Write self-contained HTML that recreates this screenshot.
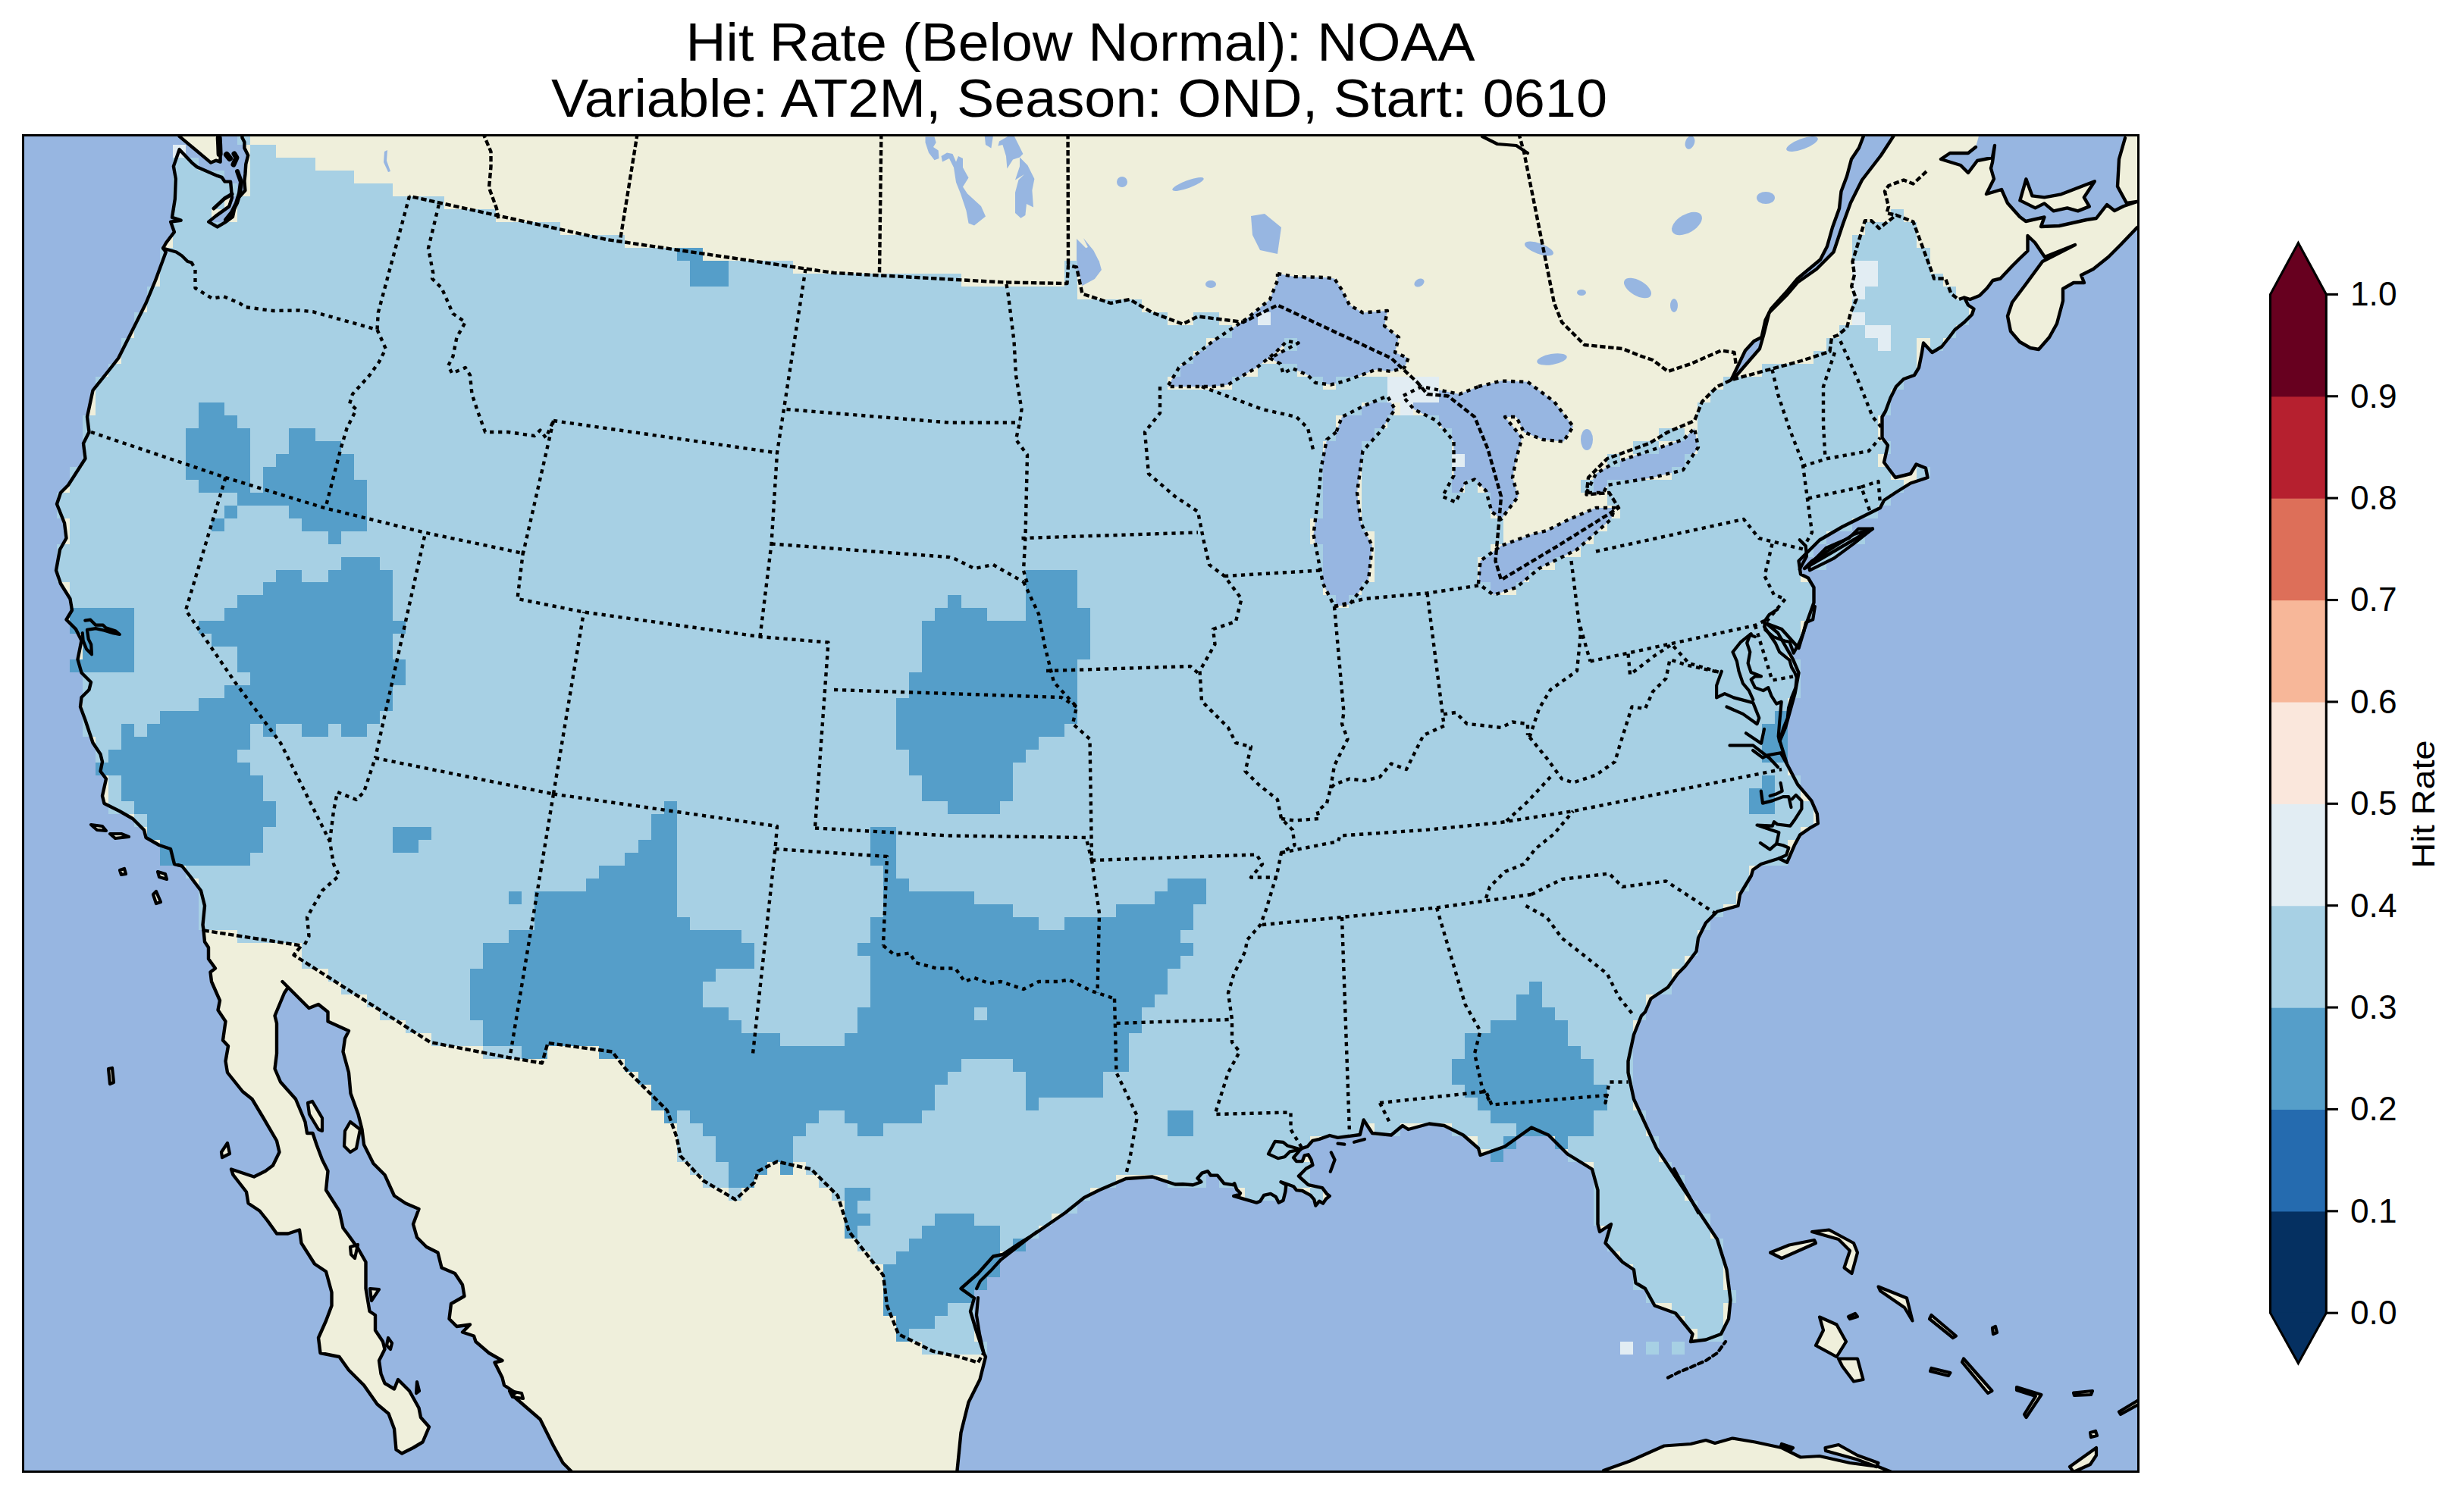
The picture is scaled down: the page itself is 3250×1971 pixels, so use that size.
<!DOCTYPE html>
<html><head><meta charset="utf-8"><style>html,body{margin:0;padding:0;background:#fff;overflow:hidden}</style></head>
<body><svg xmlns="http://www.w3.org/2000/svg" width="3250" height="1971" viewBox="0 0 3250 1971" style="display:block">
<defs><clipPath id="mc"><rect x="30.5" y="178.5" width="2790" height="1763"/></clipPath></defs>
<rect width="3250" height="1971" fill="#fff"/>
<g font-family="Liberation Sans, sans-serif" fill="#000">
<text x="904.5" y="80.4" font-size="70" textLength="1041" lengthAdjust="spacingAndGlyphs">Hit Rate (Below Normal): NOAA</text>
<text x="727" y="153.8" font-size="70" textLength="1393" lengthAdjust="spacingAndGlyphs">Variable: AT2M, Season: OND, Start: 0610</text>
</g>
<g clip-path="url(#mc)">
<rect x="30.5" y="178.5" width="2790" height="1763" fill="#97b6e1"/>
<rect x="20" y="165" width="2820" height="1790" fill="#efefdb"/>
<polygon points="20.0,165.0 232.0,165.0 236.6,179.9 278.1,214.6 284.8,211.7 290.6,213.6 290.6,200.1 286.7,165.0 318.6,165.0 319.5,181.8 322.4,187.6 322.4,195.3 327.2,204.9 324.3,216.5 323.4,230.0 322.4,238.7 323.4,251.2 314.7,260.8 309.9,272.4 307.0,285.9 296.4,293.6 286.7,299.4 275.2,292.6 284.8,284.9 302.2,272.4 306.0,260.8 304.1,239.6 296.4,239.6 292.5,233.8 286.7,231.9 259.8,220.3 253.0,214.6 236.6,197.2 228.9,219.4 231.8,235.8 230.8,262.7 227.0,286.8 238.6,290.7 225.1,292.6 229.9,306.1 219.3,320.0 215.0,327.5 218.8,332.5 205.0,370.0 192.5,400.0 172.5,440.0 156.2,472.5 142.5,490.0 122.5,515.0 115.0,550.0 117.5,570.0 110.0,585.0 112.5,605.0 90.0,640.0 80.0,650.0 75.0,665.0 85.0,690.0 87.5,710.0 79.0,725.0 74.0,752.5 80.0,770.0 92.5,790.0 95.0,805.0 87.5,817.5 100.0,830.0 107.5,845.0 102.5,870.0 107.5,887.5 120.0,900.0 117.5,910.0 107.5,920.0 106.0,932.5 112.5,950.0 120.0,972.5 122.5,980.0 132.5,995.0 135.0,1005.0 132.5,1017.5 140.0,1027.5 135.0,1050.0 137.5,1060.0 157.5,1070.0 175.0,1080.0 190.0,1095.0 192.5,1105.0 210.0,1115.0 225.0,1120.0 230.0,1140.0 240.0,1142.5 250.0,1155.0 265.0,1175.0 270.0,1195.0 267.5,1220.0 268.5,1227.5 270.0,1242.5 275.0,1250.0 275.0,1265.0 284.0,1277.5 277.5,1282.5 279.0,1295.0 290.0,1320.0 287.5,1332.5 297.5,1347.5 294.0,1372.5 301.0,1380.0 297.5,1400.0 300.0,1415.0 320.0,1440.0 332.5,1450.0 347.5,1475.0 365.0,1505.0 368.5,1520.0 360.0,1537.5 350.0,1545.0 335.0,1552.5 305.0,1542.5 307.5,1550.0 325.0,1572.5 327.5,1587.5 342.5,1597.5 352.5,1610.0 365.0,1627.5 380.0,1627.5 395.0,1622.5 397.5,1640.0 415.0,1667.5 430.0,1677.5 437.5,1705.0 437.5,1722.5 430.0,1742.5 420.0,1765.0 422.5,1785.0 447.5,1790.0 460.0,1807.5 480.0,1827.5 497.5,1852.5 512.5,1865.0 520.0,1885.0 522.5,1912.5 530.0,1917.5 545.0,1910.0 557.5,1902.5 566.0,1882.5 555.0,1870.0 552.5,1857.5 540.0,1835.0 525.0,1820.0 520.0,1832.5 507.5,1825.0 502.5,1812.5 500.0,1795.0 507.5,1780.0 505.0,1770.0 495.0,1755.0 495.0,1735.0 487.5,1730.0 482.5,1700.0 482.5,1665.0 472.5,1647.5 460.0,1630.0 452.5,1620.0 447.5,1597.5 430.0,1570.0 432.5,1545.0 425.0,1530.0 417.5,1510.0 412.5,1495.0 405.0,1495.0 402.5,1480.0 390.0,1450.0 370.0,1427.5 362.5,1410.0 365.0,1390.0 365.0,1350.0 362.5,1340.0 375.0,1310.0 380.0,1302.5 372.5,1295.0 385.0,1307.5 407.5,1330.0 420.0,1325.0 432.5,1335.0 432.5,1347.5 460.0,1360.0 455.0,1370.0 452.5,1387.5 460.0,1415.0 462.5,1442.5 472.5,1470.0 477.5,1490.0 480.0,1510.0 492.5,1535.0 507.5,1550.0 520.0,1577.5 535.0,1587.5 552.5,1595.0 545.0,1615.0 550.0,1632.5 562.5,1645.0 577.5,1652.5 582.5,1672.5 600.0,1680.0 610.0,1695.0 612.5,1710.0 595.0,1720.0 592.5,1740.0 602.5,1750.0 620.0,1747.5 610.0,1757.5 625.0,1762.5 627.5,1770.0 645.0,1785.0 662.5,1795.0 652.5,1797.5 662.5,1817.5 665.0,1827.5 680.0,1837.5 675.0,1840.0 712.5,1872.5 730.0,1907.5 742.5,1930.0 752.5,1940.0 762.0,1950.0 20.0,1960.0" fill="#97b6e1" />
<polygon points="1260.0,1950.0 1262.5,1940.0 1267.5,1890.0 1277.5,1850.0 1292.5,1820.0 1300.0,1790.0 1297.5,1785.0 1287.5,1755.0 1280.0,1730.0 1285.0,1712.5 1267.5,1700.0 1290.0,1680.0 1310.0,1657.5 1322.5,1655.0 1345.0,1640.0 1365.0,1627.5 1405.0,1600.0 1430.0,1580.0 1450.0,1570.0 1485.0,1555.0 1520.0,1552.5 1550.0,1562.5 1560.0,1562.3 1573.6,1563.2 1584.4,1559.3 1579.5,1554.5 1585.3,1547.7 1593.1,1545.2 1597.0,1550.6 1605.8,1550.6 1614.5,1561.3 1626.2,1563.2 1628.2,1561.3 1631.1,1569.1 1636.0,1574.0 1635.0,1575.9 1627.2,1577.9 1657.4,1586.6 1662.3,1584.7 1667.1,1576.9 1675.9,1574.9 1682.7,1578.8 1686.6,1586.6 1692.5,1583.7 1695.4,1572.0 1696.4,1563.2 1689.5,1559.3 1706.1,1565.2 1710.0,1570.1 1717.8,1571.0 1728.5,1576.9 1733.4,1582.7 1735.3,1590.5 1740.2,1584.7 1745.1,1587.6 1749.0,1581.8 1753.8,1577.9 1750.0,1574.9 1744.1,1567.1 1725.6,1563.2 1714.9,1553.5 1712.9,1551.6 1717.8,1546.7 1722.7,1541.8 1731.4,1537.0 1729.5,1530.1 1725.6,1523.3 1720.7,1524.3 1717.8,1532.1 1710.0,1532.1 1706.1,1527.2 1712.0,1520.4 1715.8,1515.5 1724.6,1512.6 1731.4,1504.8 1740.2,1502.9 1753.8,1498.0 1764.5,1500.9 1793.8,1497.0 1798.6,1477.5 1810.0,1495.0 1835.0,1497.5 1850.0,1485.0 1857.5,1490.0 1885.0,1482.5 1905.0,1485.0 1930.0,1497.5 1950.0,1515.0 1952.5,1524.0 1985.0,1512.5 2002.5,1500.0 2020.0,1487.5 2042.5,1497.5 2067.5,1522.5 2100.0,1542.5 2107.5,1570.0 2107.5,1615.0 2110.0,1625.0 2125.0,1615.0 2117.5,1640.0 2140.0,1665.0 2155.0,1675.0 2157.5,1692.5 2170.0,1700.0 2182.5,1722.5 2210.0,1732.5 2232.5,1760.0 2230.0,1770.0 2250.0,1767.5 2270.0,1760.0 2280.0,1740.0 2282.5,1715.0 2277.5,1675.0 2265.0,1635.0 2245.0,1605.0 2215.0,1560.0 2185.0,1515.0 2155.0,1450.0 2147.5,1415.0 2147.5,1400.0 2155.0,1365.0 2165.0,1340.0 2170.0,1335.0 2177.5,1317.5 2200.0,1302.5 2212.5,1285.0 2222.5,1275.0 2237.5,1255.0 2240.0,1237.5 2250.0,1217.5 2265.0,1202.5 2292.5,1195.0 2295.0,1180.0 2310.0,1155.0 2312.1,1147.5 2322.8,1140.0 2346.4,1132.5 2357.1,1137.8 2366.8,1115.3 2374.3,1101.4 2388.2,1091.8 2397.8,1086.4 2396.8,1073.6 2389.3,1056.4 2371.1,1035.0 2357.1,1008.2 2347.5,977.5 2355.0,960.0 2367.5,915.0 2372.5,887.5 2365.0,870.0 2345.0,835.0 2330.0,822.5 2350.0,830.0 2372.5,855.0 2380.0,830.0 2392.5,795.0 2392.5,775.0 2385.0,762.5 2375.0,757.5 2372.5,740.0 2400.0,712.5 2430.0,695.0 2480.0,670.0 2485.0,660.0 2500.0,650.0 2520.0,637.5 2542.5,630.0 2540.0,617.5 2527.5,612.5 2520.0,625.0 2500.0,630.0 2485.0,610.0 2490.0,587.5 2482.5,577.5 2482.5,550.0 2487.0,542.5 2493.5,525.0 2501.0,510.0 2511.0,500.0 2525.0,495.0 2531.0,485.0 2535.0,465.0 2537.0,452.5 2548.5,465.0 2561.0,457.5 2571.0,445.0 2578.5,435.0 2591.0,425.0 2601.0,415.0 2603.5,407.5 2596.0,402.5 2591.0,392.5 2598.5,395.0 2611.0,390.0 2621.0,380.0 2628.5,370.0 2638.5,367.5 2654.0,351.0 2664.0,341.0 2674.5,331.0 2674.5,311.0 2684.0,320.0 2697.0,339.0 2737.0,323.0 2694.0,345.0 2672.0,375.0 2654.0,399.0 2648.0,417.0 2652.0,437.0 2664.0,451.0 2678.0,459.0 2689.0,461.0 2703.0,445.0 2713.0,427.0 2721.0,397.0 2721.0,381.0 2735.0,373.0 2749.0,373.0 2745.0,363.0 2761.0,355.0 2781.0,339.0 2797.0,323.0 2819.0,300.0 2840.0,290.0 2840.0,1960.0 1260.0,1960.0" fill="#97b6e1" />
<polygon points="2614.0,165.0 2606.0,194.0 2596.0,202.0 2572.0,202.0 2560.0,210.0 2586.0,218.0 2596.0,228.0 2608.0,212.0 2628.0,208.0 2631.0,192.0 2628.0,214.0 2626.0,222.0 2630.0,236.0 2620.0,256.0 2640.0,250.0 2648.0,268.0 2664.0,286.0 2672.0,292.0 2696.5,286.5 2692.0,299.0 2716.0,298.0 2752.0,290.0 2765.0,288.0 2779.0,270.0 2789.0,278.0 2801.0,272.0 2819.0,266.0 2805.0,268.0 2793.0,246.0 2795.0,210.0 2803.0,182.0 2806.0,165.0" fill="#97b6e1" />
<polygon points="2463.5,165.0 2452.0,195.0 2442.0,210.0 2436.0,232.5 2428.5,252.5 2426.0,275.0 2417.0,300.0 2410.0,325.0 2401.0,342.5 2371.0,367.5 2358.5,382.5 2336.0,407.5 2328.5,422.5 2323.5,445.0 2313.5,450.0 2302.0,462.5 2283.5,501.0 2288.5,497.5 2321.0,460.0 2326.0,442.5 2333.5,412.5 2356.0,390.0 2371.0,372.5 2396.0,355.0 2418.5,332.5 2431.0,295.0 2441.0,267.5 2456.0,237.5 2481.0,205.0 2507.0,165.0" fill="#97b6e1" />
<polygon points="2664.4,264.4 2672.4,236.3 2680.5,258.4 2696.5,260.4 2718.6,256.3 2762.8,239.3 2748.8,260.4 2755.8,272.4 2740.7,278.4 2726.7,274.4 2708.6,278.4 2696.5,268.4 2684.5,274.4" fill="#efefdb" />
<polygon points="1685.0,361.0 1707.5,365.0 1747.5,366.0 1760.0,367.5 1770.0,382.5 1780.0,402.5 1797.5,412.5 1830.0,410.0 1826.0,430.0 1845.0,445.0 1840.0,465.0 1857.5,472.5 1852.5,485.0 1835.0,490.0 1815.0,487.5 1775.0,502.5 1755.0,507.5 1735.0,505.0 1725.0,495.0 1705.0,486.0 1692.5,492.5 1688.8,480.0 1675.0,472.5 1712.5,452.5 1697.5,450.0 1682.5,465.0 1657.5,485.0 1640.0,495.0 1620.0,507.5 1600.0,510.0 1540.0,510.0 1555.0,485.0 1600.0,450.0 1645.0,420.0 1675.0,395.0 1685.0,370.0" fill="#97b6e1" />
<polygon points="1762.5,570.0 1750.0,580.0 1742.5,617.5 1740.0,645.0 1732.5,705.0 1745.0,770.0 1760.0,800.0 1780.0,797.5 1805.0,765.0 1810.0,720.0 1795.0,690.0 1790.0,650.0 1797.5,595.0 1820.0,570.0 1840.0,540.0 1830.0,522.5 1800.0,535.0 1770.0,550.0" fill="#97b6e1" />
<polygon points="1950.0,510.0 1980.0,502.5 2015.0,503.8 2050.0,530.0 2075.0,562.5 2062.5,582.5 2035.0,580.0 2010.0,570.0 2000.0,550.0 1985.0,550.0 2007.5,577.5 2000.0,605.0 1995.0,630.0 2002.5,655.0 1980.0,685.0 1967.5,675.0 1960.0,647.5 1945.0,632.5 1932.5,637.5 1920.0,662.5 1902.5,655.0 1917.5,627.5 1917.5,582.5 1895.0,555.0 1865.0,540.0 1850.0,522.5 1875.0,510.0 1925.0,520.0" fill="#97b6e1" />
<polygon points="1950.0,770.0 1952.5,740.0 1980.0,720.0 2020.0,705.0 2040.0,700.0 2070.0,685.0 2105.0,670.0 2130.0,670.0 2125.0,685.0 2080.0,725.0 2030.0,750.0 2000.0,775.0 1970.0,785.0" fill="#97b6e1" />
<polygon points="2092.5,650.0 2105.0,625.0 2130.0,610.0 2190.0,590.0 2220.0,580.0 2235.0,565.0 2240.0,590.0 2220.0,620.0 2180.0,630.0 2120.0,640.0 2115.0,650.0" fill="#97b6e1" />
<polygon points="1420.0,315.0 1450.0,345.0 1440.0,370.0 1420.0,360.0" fill="#97b6e1" />
<polygon points="1220.5,180.5 1232.5,180.5 1234.7,188.0 1231.0,194.0 1237.7,198.5 1238.5,209.0 1232.5,211.2 1225.0,201.5 1220.5,188.0" fill="#97b6e1" />
<polygon points="1241.5,206.0 1249.0,201.5 1256.5,203.0 1261.0,213.5 1264.0,206.0 1270.0,209.0 1270.0,221.0 1277.5,234.5 1270.0,246.5 1276.0,255.5 1294.0,272.0 1300.0,285.4 1285.0,297.4 1277.5,294.4 1274.5,278.0 1267.0,255.5 1261.0,240.5 1258.0,221.0 1252.0,209.0 1243.0,213.5" fill="#97b6e1" />
<polygon points="1298.4,176.0 1310.4,176.0 1307.4,195.5 1300.0,191.0" fill="#97b6e1" />
<polygon points="1318.0,186.5 1336.0,176.0 1345.0,194.0 1349.4,203.0 1345.0,207.5 1355.4,218.0 1364.4,236.0 1361.4,251.0 1363.0,273.5 1354.0,269.0 1352.4,284.0 1346.4,287.7 1339.0,281.0 1339.0,254.0 1343.4,237.5 1351.0,230.0 1339.0,237.5 1345.0,219.5 1345.0,207.5 1336.0,210.5 1328.4,222.5 1327.0,206.0 1322.4,191.0 1316.4,192.5" fill="#97b6e1" />
<polygon points="1419.9,333.4 1434.9,326.0 1428.9,314.0 1442.4,330.4 1450.0,345.4 1452.9,356.0 1443.9,368.0 1427.4,377.0 1422.9,360.4 1426.0,348.4" fill="#97b6e1" />
<polygon points="1650.0,285.0 1668.0,282.0 1690.0,300.0 1685.0,335.0 1662.0,330.0 1652.0,310.0" fill="#97b6e1" />
<polygon points="507.0,200.0 511.0,198.0 510.0,212.0 515.0,226.0 512.0,227.0 506.0,214.0" fill="#97b6e1" />
<ellipse cx="1480" cy="240" rx="7" ry="7" transform="rotate(0 1480 240)" fill="#97b6e1"/>
<ellipse cx="1567" cy="243" rx="22" ry="5" transform="rotate(-20 1567 243)" fill="#97b6e1"/>
<ellipse cx="1597" cy="375" rx="7" ry="5" transform="rotate(0 1597 375)" fill="#97b6e1"/>
<ellipse cx="1872" cy="373" rx="7" ry="5" transform="rotate(-30 1872 373)" fill="#97b6e1"/>
<ellipse cx="2030" cy="328" rx="20" ry="7" transform="rotate(20 2030 328)" fill="#97b6e1"/>
<ellipse cx="2086" cy="386" rx="6" ry="4" transform="rotate(0 2086 386)" fill="#97b6e1"/>
<ellipse cx="2160" cy="380" rx="20" ry="10" transform="rotate(30 2160 380)" fill="#97b6e1"/>
<ellipse cx="2225" cy="295" rx="22" ry="12" transform="rotate(-30 2225 295)" fill="#97b6e1"/>
<ellipse cx="2208" cy="403" rx="5" ry="9" transform="rotate(0 2208 403)" fill="#97b6e1"/>
<ellipse cx="2047" cy="474" rx="20" ry="7" transform="rotate(-10 2047 474)" fill="#97b6e1"/>
<ellipse cx="2093" cy="580" rx="8" ry="14" transform="rotate(0 2093 580)" fill="#97b6e1"/>
<ellipse cx="2329" cy="261" rx="12" ry="8" transform="rotate(0 2329 261)" fill="#97b6e1"/>
<ellipse cx="2377" cy="190" rx="22" ry="7" transform="rotate(-20 2377 190)" fill="#97b6e1"/>
<ellipse cx="2229" cy="188" rx="6" ry="9" transform="rotate(20 2229 188)" fill="#97b6e1"/>
<path d="M313.2 174.1H330.3V191.1H313.2ZM330.3 191.1H364.3V208.1H330.3ZM228.0 208.1H262.1V225.1H228.0ZM330.3 208.1H415.5V225.1H330.3ZM228.0 225.1H296.2V242.1H228.0ZM330.3 225.1H466.6V242.1H330.3ZM228.0 242.1H313.2V259.0H228.0ZM330.3 242.1H517.7V259.0H330.3ZM228.0 259.0H296.2V276.0H228.0ZM313.2 259.0H585.9V276.0H313.2ZM228.0 276.0H279.1V293.0H228.0ZM313.2 276.0H654.0V293.0H313.2ZM2494.3 276.0H2511.4V293.0H2494.3ZM228.0 293.0H739.2V310.0H228.0ZM2460.3 293.0H2528.4V310.0H2460.3ZM228.0 310.0H824.4V327.0H228.0ZM2443.2 310.0H2528.4V327.0H2443.2ZM211.0 327.0H892.6V343.9H211.0ZM2443.2 327.0H2545.5V343.9H2443.2ZM211.0 343.9H909.6V360.9H211.0ZM960.7 343.9H1045.9V360.9H960.7ZM1403.8 343.9H1420.8V360.9H1403.8ZM2477.3 343.9H2545.5V360.9H2477.3ZM211.0 360.9H909.6V377.9H211.0ZM960.7 360.9H1267.5V377.9H960.7ZM1403.8 360.9H1420.8V377.9H1403.8ZM2477.3 360.9H2562.5V377.9H2477.3ZM193.9 377.9H1420.8V394.9H193.9ZM2460.3 377.9H2579.5V394.9H2460.3ZM193.9 394.9H1506.0V411.9H193.9ZM2443.2 394.9H2596.6V411.9H2443.2ZM176.9 411.9H1540.1V428.8H176.9ZM1574.2 411.9H1608.3V428.8H1574.2ZM2460.3 411.9H2596.6V428.8H2460.3ZM176.9 428.8H1625.3V445.8H176.9ZM2426.2 428.8H2460.3V445.8H2426.2ZM2494.3 428.8H2579.5V445.8H2494.3ZM159.9 445.8H1591.2V462.8H159.9ZM1693.5 445.8H1710.5V462.8H1693.5ZM2409.1 445.8H2477.3V462.8H2409.1ZM2494.3 445.8H2528.4V462.8H2494.3ZM2545.5 445.8H2562.5V462.8H2545.5ZM159.9 462.8H1574.2V479.8H159.9ZM2392.1 462.8H2528.4V479.8H2392.1ZM142.8 479.8H1557.1V496.8H142.8ZM1659.4 479.8H1710.5V496.8H1659.4ZM2323.9 479.8H2528.4V496.8H2323.9ZM125.8 496.8H1540.1V513.7H125.8ZM1625.3 496.8H1744.6V513.7H1625.3ZM1761.6 496.8H1829.8V513.7H1761.6ZM2272.8 496.8H2511.4V513.7H2272.8ZM125.8 513.7H1829.8V530.7H125.8ZM2255.8 513.7H2494.3V530.7H2255.8ZM125.8 530.7H262.1V547.7H125.8ZM296.2 530.7H1795.7V547.7H296.2ZM2238.7 530.7H2494.3V547.7H2238.7ZM108.7 547.7H262.1V564.7H108.7ZM313.2 547.7H1761.6V564.7H313.2ZM1829.8 547.7H1897.9V564.7H1829.8ZM2238.7 547.7H2477.3V564.7H2238.7ZM108.7 564.7H245.1V581.7H108.7ZM330.3 564.7H381.4V581.7H330.3ZM415.5 564.7H1761.6V581.7H415.5ZM1812.7 564.7H1915.0V581.7H1812.7ZM2187.6 564.7H2221.7V581.7H2187.6ZM2238.7 564.7H2477.3V581.7H2238.7ZM108.7 581.7H245.1V598.6H108.7ZM330.3 581.7H381.4V598.6H330.3ZM449.5 581.7H1744.6V598.6H449.5ZM1795.7 581.7H1915.0V598.6H1795.7ZM2153.5 581.7H2187.6V598.6H2153.5ZM2238.7 581.7H2494.3V598.6H2238.7ZM108.7 598.6H245.1V615.6H108.7ZM330.3 598.6H364.3V615.6H330.3ZM466.6 598.6H1744.6V615.6H466.6ZM1795.7 598.6H1915.0V615.6H1795.7ZM2119.5 598.6H2136.5V615.6H2119.5ZM2221.7 598.6H2477.3V615.6H2221.7ZM91.7 615.6H245.1V632.6H91.7ZM330.3 615.6H347.3V632.6H330.3ZM466.6 615.6H1744.6V632.6H466.6ZM1795.7 615.6H1915.0V632.6H1795.7ZM2204.7 615.6H2494.3V632.6H2204.7ZM2528.4 615.6H2545.5V632.6H2528.4ZM91.7 632.6H262.1V649.6H91.7ZM330.3 632.6H347.3V649.6H330.3ZM483.6 632.6H1744.6V649.6H483.6ZM1795.7 632.6H1915.0V649.6H1795.7ZM1932.0 632.6H1949.1V649.6H1932.0ZM2085.4 632.6H2102.4V649.6H2085.4ZM2119.5 632.6H2511.4V649.6H2119.5ZM74.7 649.6H313.2V666.6H74.7ZM483.6 649.6H1744.6V666.6H483.6ZM1795.7 649.6H1966.1V666.6H1795.7ZM2119.5 649.6H2494.3V666.6H2119.5ZM74.7 666.6H296.2V683.5H74.7ZM313.2 666.6H381.4V683.5H313.2ZM483.6 666.6H1744.6V683.5H483.6ZM1795.7 666.6H1966.1V683.5H1795.7ZM2136.5 666.6H2477.3V683.5H2136.5ZM91.7 683.5H279.1V700.5H91.7ZM296.2 683.5H398.4V700.5H296.2ZM483.6 683.5H1727.5V700.5H483.6ZM1795.7 683.5H1983.1V700.5H1795.7ZM2119.5 683.5H2443.2V700.5H2119.5ZM91.7 700.5H432.5V717.5H91.7ZM449.5 700.5H1727.5V717.5H449.5ZM1812.7 700.5H1983.1V717.5H1812.7ZM2102.4 700.5H2409.1V717.5H2102.4ZM2443.2 700.5H2460.3V717.5H2443.2ZM74.7 717.5H1744.6V734.5H74.7ZM1812.7 717.5H1966.1V734.5H1812.7ZM2085.4 717.5H2392.1V734.5H2085.4ZM2409.1 717.5H2426.2V734.5H2409.1ZM74.7 734.5H449.5V751.5H74.7ZM500.7 734.5H1744.6V751.5H500.7ZM1812.7 734.5H1949.1V751.5H1812.7ZM2051.3 734.5H2375.1V751.5H2051.3ZM2392.1 734.5H2409.1V751.5H2392.1ZM74.7 751.5H364.3V768.4H74.7ZM398.4 751.5H432.5V768.4H398.4ZM517.7 751.5H1352.7V768.4H517.7ZM1420.8 751.5H1744.6V768.4H1420.8ZM1812.7 751.5H1949.1V768.4H1812.7ZM2017.2 751.5H2375.1V768.4H2017.2ZM91.7 768.4H347.3V785.4H91.7ZM517.7 768.4H1352.7V785.4H517.7ZM1420.8 768.4H1744.6V785.4H1420.8ZM1795.7 768.4H1966.1V785.4H1795.7ZM2000.2 768.4H2392.1V785.4H2000.2ZM91.7 785.4H313.2V802.4H91.7ZM517.7 785.4H1250.4V802.4H517.7ZM1267.5 785.4H1352.7V802.4H1267.5ZM1420.8 785.4H1761.6V802.4H1420.8ZM1778.7 785.4H2392.1V802.4H1778.7ZM176.9 802.4H296.2V819.4H176.9ZM517.7 802.4H1233.4V819.4H517.7ZM1301.5 802.4H1352.7V819.4H1301.5ZM1437.9 802.4H2392.1V819.4H1437.9ZM176.9 819.4H262.1V836.4H176.9ZM534.7 819.4H1216.3V836.4H534.7ZM1437.9 819.4H2375.1V836.4H1437.9ZM176.9 836.4H279.1V853.3H176.9ZM517.7 836.4H1216.3V853.3H517.7ZM1437.9 836.4H2375.1V853.3H1437.9ZM176.9 853.3H313.2V870.3H176.9ZM517.7 853.3H1216.3V870.3H517.7ZM1437.9 853.3H2358.0V870.3H1437.9ZM176.9 870.3H313.2V887.3H176.9ZM534.7 870.3H1216.3V887.3H534.7ZM1420.8 870.3H2375.1V887.3H1420.8ZM108.7 887.3H330.3V904.3H108.7ZM534.7 887.3H1199.3V904.3H534.7ZM1420.8 887.3H2375.1V904.3H1420.8ZM108.7 904.3H296.2V921.3H108.7ZM517.7 904.3H1199.3V921.3H517.7ZM1420.8 904.3H2375.1V921.3H1420.8ZM108.7 921.3H262.1V938.2H108.7ZM517.7 921.3H1182.3V938.2H517.7ZM1420.8 921.3H2358.0V938.2H1420.8ZM108.7 938.2H211.0V955.2H108.7ZM500.7 938.2H1182.3V955.2H500.7ZM1420.8 938.2H2341.0V955.2H1420.8ZM108.7 955.2H159.9V972.2H108.7ZM176.9 955.2H193.9V972.2H176.9ZM330.3 955.2H347.3V972.2H330.3ZM364.3 955.2H398.4V972.2H364.3ZM432.5 955.2H449.5V972.2H432.5ZM483.6 955.2H1182.3V972.2H483.6ZM1403.8 955.2H2323.9V972.2H1403.8ZM125.8 972.2H159.9V989.2H125.8ZM330.3 972.2H1182.3V989.2H330.3ZM1369.7 972.2H2323.9V989.2H1369.7ZM125.8 989.2H142.8V1006.2H125.8ZM313.2 989.2H1199.3V1006.2H313.2ZM1352.7 989.2H2323.9V1006.2H1352.7ZM330.3 1006.2H1199.3V1023.1H330.3ZM1335.6 1006.2H2358.0V1023.1H1335.6ZM142.8 1023.1H159.9V1040.1H142.8ZM347.3 1023.1H1216.3V1040.1H347.3ZM1335.6 1023.1H2323.9V1040.1H1335.6ZM2341.0 1023.1H2375.1V1040.1H2341.0ZM142.8 1040.1H159.9V1057.1H142.8ZM347.3 1040.1H1216.3V1057.1H347.3ZM1335.6 1040.1H2306.9V1057.1H1335.6ZM2341.0 1040.1H2375.1V1057.1H2341.0ZM142.8 1057.1H176.9V1074.1H142.8ZM364.3 1057.1H875.5V1074.1H364.3ZM892.6 1057.1H1250.4V1074.1H892.6ZM1318.6 1057.1H2306.9V1074.1H1318.6ZM2341.0 1057.1H2392.1V1074.1H2341.0ZM176.9 1074.1H193.9V1091.1H176.9ZM364.3 1074.1H858.5V1091.1H364.3ZM892.6 1074.1H2392.1V1091.1H892.6ZM347.3 1091.1H517.7V1108.0H347.3ZM568.8 1091.1H858.5V1108.0H568.8ZM892.6 1091.1H1148.2V1108.0H892.6ZM1182.3 1091.1H2375.1V1108.0H1182.3ZM347.3 1108.0H517.7V1125.0H347.3ZM551.8 1108.0H841.5V1125.0H551.8ZM892.6 1108.0H1148.2V1125.0H892.6ZM1182.3 1108.0H2358.0V1125.0H1182.3ZM330.3 1125.0H824.4V1142.0H330.3ZM892.6 1125.0H1148.2V1142.0H892.6ZM1182.3 1125.0H2358.0V1142.0H1182.3ZM245.1 1142.0H790.3V1159.0H245.1ZM892.6 1142.0H1165.2V1159.0H892.6ZM1182.3 1142.0H2306.9V1159.0H1182.3ZM262.1 1159.0H773.3V1176.0H262.1ZM892.6 1159.0H1165.2V1176.0H892.6ZM1199.3 1159.0H1540.1V1176.0H1199.3ZM1591.2 1159.0H2306.9V1176.0H1591.2ZM262.1 1176.0H671.1V1192.9H262.1ZM688.1 1176.0H705.1V1192.9H688.1ZM892.6 1176.0H1165.2V1192.9H892.6ZM1284.5 1176.0H1523.1V1192.9H1284.5ZM1591.2 1176.0H2289.9V1192.9H1591.2ZM262.1 1192.9H705.1V1209.9H262.1ZM892.6 1192.9H1165.2V1209.9H892.6ZM1335.6 1192.9H1471.9V1209.9H1335.6ZM1574.2 1192.9H2272.8V1209.9H1574.2ZM262.1 1209.9H705.1V1226.9H262.1ZM909.6 1209.9H1148.2V1226.9H909.6ZM1369.7 1209.9H1403.8V1226.9H1369.7ZM1574.2 1209.9H2255.8V1226.9H1574.2ZM313.2 1226.9H671.1V1243.9H313.2ZM977.8 1226.9H1148.2V1243.9H977.8ZM1557.1 1226.9H2238.7V1243.9H1557.1ZM398.4 1243.9H637.0V1260.9H398.4ZM994.8 1243.9H1131.1V1260.9H994.8ZM1574.2 1243.9H2238.7V1260.9H1574.2ZM398.4 1260.9H637.0V1277.8H398.4ZM994.8 1260.9H1148.2V1277.8H994.8ZM1557.1 1260.9H2221.7V1277.8H1557.1ZM432.5 1277.8H619.9V1294.8H432.5ZM943.7 1277.8H1148.2V1294.8H943.7ZM1540.1 1277.8H2204.7V1294.8H1540.1ZM449.5 1294.8H619.9V1311.8H449.5ZM926.7 1294.8H1148.2V1311.8H926.7ZM1540.1 1294.8H2017.2V1311.8H1540.1ZM2034.3 1294.8H2204.7V1311.8H2034.3ZM483.6 1311.8H619.9V1328.8H483.6ZM926.7 1311.8H1148.2V1328.8H926.7ZM1523.1 1311.8H2000.2V1328.8H1523.1ZM2034.3 1311.8H2170.6V1328.8H2034.3ZM500.7 1328.8H619.9V1345.8H500.7ZM960.7 1328.8H1131.1V1345.8H960.7ZM1284.5 1328.8H1301.5V1345.8H1284.5ZM1506.0 1328.8H2000.2V1345.8H1506.0ZM2051.3 1328.8H2170.6V1345.8H2051.3ZM534.7 1345.8H637.0V1362.7H534.7ZM977.8 1345.8H1131.1V1362.7H977.8ZM1506.0 1345.8H1966.1V1362.7H1506.0ZM2068.3 1345.8H2153.5V1362.7H2068.3ZM568.8 1362.7H637.0V1379.7H568.8ZM1028.9 1362.7H1114.1V1379.7H1028.9ZM1489.0 1362.7H1932.0V1379.7H1489.0ZM2068.3 1362.7H2153.5V1379.7H2068.3ZM637.0 1379.7H688.1V1396.7H637.0ZM1489.0 1379.7H1932.0V1396.7H1489.0ZM2085.4 1379.7H2153.5V1396.7H2085.4ZM1267.5 1396.7H1335.6V1413.7H1267.5ZM1489.0 1396.7H1915.0V1413.7H1489.0ZM2102.4 1396.7H2153.5V1413.7H2102.4ZM1250.4 1413.7H1352.7V1430.7H1250.4ZM1454.9 1413.7H1915.0V1430.7H1454.9ZM2102.4 1413.7H2153.5V1430.7H2102.4ZM1233.4 1430.7H1352.7V1447.6H1233.4ZM1454.9 1430.7H1932.0V1447.6H1454.9ZM2119.5 1430.7H2153.5V1447.6H2119.5ZM1233.4 1447.6H1352.7V1464.6H1233.4ZM1369.7 1447.6H1949.1V1464.6H1369.7ZM2119.5 1447.6H2153.5V1464.6H2119.5ZM892.6 1464.6H909.6V1481.6H892.6ZM1080.0 1464.6H1114.1V1481.6H1080.0ZM1216.3 1464.6H1540.1V1481.6H1216.3ZM1574.2 1464.6H1966.1V1481.6H1574.2ZM2102.4 1464.6H2170.6V1481.6H2102.4ZM892.6 1481.6H926.7V1498.6H892.6ZM1063.0 1481.6H1131.1V1498.6H1063.0ZM1165.2 1481.6H1540.1V1498.6H1165.2ZM1574.2 1481.6H1795.7V1498.6H1574.2ZM1812.7 1481.6H1846.8V1498.6H1812.7ZM1915.0 1481.6H2000.2V1498.6H1915.0ZM2102.4 1481.6H2170.6V1498.6H2102.4ZM892.6 1498.6H943.7V1515.6H892.6ZM1045.9 1498.6H1727.5V1515.6H1045.9ZM1949.1 1498.6H1983.1V1515.6H1949.1ZM2068.3 1498.6H2187.6V1515.6H2068.3ZM892.6 1515.6H943.7V1532.5H892.6ZM1045.9 1515.6H1710.5V1532.5H1045.9ZM2068.3 1515.6H2187.6V1532.5H2068.3ZM909.6 1532.5H960.7V1549.5H909.6ZM1063.0 1532.5H1727.5V1549.5H1063.0ZM2102.4 1532.5H2204.7V1549.5H2102.4ZM926.7 1549.5H960.7V1566.5H926.7ZM1080.0 1549.5H1471.9V1566.5H1080.0ZM1540.1 1549.5H1591.2V1566.5H1540.1ZM1608.3 1549.5H1727.5V1566.5H1608.3ZM2102.4 1549.5H2221.7V1566.5H2102.4ZM960.7 1566.5H977.8V1583.5H960.7ZM1097.1 1566.5H1114.1V1583.5H1097.1ZM1148.2 1566.5H1437.9V1583.5H1148.2ZM1642.3 1566.5H1693.5V1583.5H1642.3ZM1727.5 1566.5H1744.6V1583.5H1727.5ZM2102.4 1566.5H2221.7V1583.5H2102.4ZM1131.1 1583.5H1420.8V1600.5H1131.1ZM2102.4 1583.5H2238.7V1600.5H2102.4ZM1148.2 1600.5H1233.4V1617.4H1148.2ZM1284.5 1600.5H1386.7V1617.4H1284.5ZM2102.4 1600.5H2255.8V1617.4H2102.4ZM1131.1 1617.4H1216.3V1634.4H1131.1ZM1318.6 1617.4H1369.7V1634.4H1318.6ZM2119.5 1617.4H2255.8V1634.4H2119.5ZM1131.1 1634.4H1199.3V1651.4H1131.1ZM1318.6 1634.4H1335.6V1651.4H1318.6ZM2119.5 1634.4H2272.8V1651.4H2119.5ZM1148.2 1651.4H1182.3V1668.4H1148.2ZM2136.5 1651.4H2272.8V1668.4H2136.5ZM2153.5 1668.4H2272.8V1685.4H2153.5ZM2153.5 1685.4H2272.8V1702.3H2153.5ZM2170.6 1702.3H2289.9V1719.3H2170.6ZM1250.4 1719.3H1284.5V1736.3H1250.4ZM2204.7 1719.3H2272.8V1736.3H2204.7ZM1233.4 1736.3H1284.5V1753.3H1233.4ZM2221.7 1736.3H2272.8V1753.3H2221.7ZM1199.3 1753.3H1284.5V1770.3H1199.3ZM2238.7 1753.3H2272.8V1770.3H2238.7ZM1216.3 1770.3H1301.5V1787.2H1216.3ZM2170.6 1770.3H2187.6V1787.2H2170.6ZM2204.7 1770.3H2221.7V1787.2H2204.7Z" fill="#a7d0e4" shape-rendering="crispEdges"/>
<path d="M228.0 191.1H245.1V208.1H228.0ZM2443.2 343.9H2477.3V360.9H2443.2ZM2443.2 360.9H2477.3V377.9H2443.2ZM2443.2 377.9H2460.3V394.9H2443.2ZM1659.4 411.9H1676.4V428.8H1659.4ZM2443.2 411.9H2460.3V428.8H2443.2ZM2460.3 428.8H2494.3V445.8H2460.3ZM2477.3 445.8H2494.3V462.8H2477.3ZM1829.8 496.8H1897.9V513.7H1829.8ZM1829.8 513.7H1897.9V530.7H1829.8ZM1846.8 530.7H1863.9V547.7H1846.8ZM1915.0 598.6H1932.0V615.6H1915.0ZM2136.5 1770.3H2153.5V1787.2H2136.5Z" fill="#e2edf3" shape-rendering="crispEdges"/>
<path d="M892.6 327.0H926.7V343.9H892.6ZM909.6 343.9H960.7V360.9H909.6ZM909.6 360.9H960.7V377.9H909.6ZM262.1 530.7H296.2V547.7H262.1ZM262.1 547.7H313.2V564.7H262.1ZM245.1 564.7H330.3V581.7H245.1ZM381.4 564.7H415.5V581.7H381.4ZM245.1 581.7H330.3V598.6H245.1ZM381.4 581.7H449.5V598.6H381.4ZM245.1 598.6H330.3V615.6H245.1ZM364.3 598.6H466.6V615.6H364.3ZM245.1 615.6H330.3V632.6H245.1ZM347.3 615.6H466.6V632.6H347.3ZM262.1 632.6H330.3V649.6H262.1ZM347.3 632.6H483.6V649.6H347.3ZM313.2 649.6H483.6V666.6H313.2ZM296.2 666.6H313.2V683.5H296.2ZM381.4 666.6H483.6V683.5H381.4ZM279.1 683.5H296.2V700.5H279.1ZM398.4 683.5H483.6V700.5H398.4ZM432.5 700.5H449.5V717.5H432.5ZM449.5 734.5H500.7V751.5H449.5ZM364.3 751.5H398.4V768.4H364.3ZM432.5 751.5H517.7V768.4H432.5ZM1352.7 751.5H1420.8V768.4H1352.7ZM347.3 768.4H517.7V785.4H347.3ZM1352.7 768.4H1420.8V785.4H1352.7ZM313.2 785.4H517.7V802.4H313.2ZM1250.4 785.4H1267.5V802.4H1250.4ZM1352.7 785.4H1420.8V802.4H1352.7ZM91.7 802.4H176.9V819.4H91.7ZM296.2 802.4H517.7V819.4H296.2ZM1233.4 802.4H1301.5V819.4H1233.4ZM1352.7 802.4H1437.9V819.4H1352.7ZM91.7 819.4H176.9V836.4H91.7ZM262.1 819.4H534.7V836.4H262.1ZM1216.3 819.4H1437.9V836.4H1216.3ZM108.7 836.4H176.9V853.3H108.7ZM279.1 836.4H517.7V853.3H279.1ZM1216.3 836.4H1437.9V853.3H1216.3ZM108.7 853.3H176.9V870.3H108.7ZM313.2 853.3H517.7V870.3H313.2ZM1216.3 853.3H1437.9V870.3H1216.3ZM91.7 870.3H176.9V887.3H91.7ZM313.2 870.3H534.7V887.3H313.2ZM1216.3 870.3H1420.8V887.3H1216.3ZM330.3 887.3H534.7V904.3H330.3ZM1199.3 887.3H1420.8V904.3H1199.3ZM296.2 904.3H517.7V921.3H296.2ZM1199.3 904.3H1420.8V921.3H1199.3ZM262.1 921.3H517.7V938.2H262.1ZM1182.3 921.3H1420.8V938.2H1182.3ZM211.0 938.2H500.7V955.2H211.0ZM1182.3 938.2H1420.8V955.2H1182.3ZM2341.0 938.2H2358.0V955.2H2341.0ZM159.9 955.2H176.9V972.2H159.9ZM193.9 955.2H330.3V972.2H193.9ZM347.3 955.2H364.3V972.2H347.3ZM398.4 955.2H432.5V972.2H398.4ZM449.5 955.2H483.6V972.2H449.5ZM1182.3 955.2H1403.8V972.2H1182.3ZM2323.9 955.2H2358.0V972.2H2323.9ZM159.9 972.2H330.3V989.2H159.9ZM1182.3 972.2H1369.7V989.2H1182.3ZM2323.9 972.2H2358.0V989.2H2323.9ZM142.8 989.2H313.2V1006.2H142.8ZM1199.3 989.2H1352.7V1006.2H1199.3ZM2323.9 989.2H2358.0V1006.2H2323.9ZM125.8 1006.2H330.3V1023.1H125.8ZM1199.3 1006.2H1335.6V1023.1H1199.3ZM159.9 1023.1H347.3V1040.1H159.9ZM1216.3 1023.1H1335.6V1040.1H1216.3ZM2323.9 1023.1H2341.0V1040.1H2323.9ZM159.9 1040.1H347.3V1057.1H159.9ZM1216.3 1040.1H1335.6V1057.1H1216.3ZM2306.9 1040.1H2341.0V1057.1H2306.9ZM176.9 1057.1H364.3V1074.1H176.9ZM875.5 1057.1H892.6V1074.1H875.5ZM1250.4 1057.1H1318.6V1074.1H1250.4ZM2306.9 1057.1H2341.0V1074.1H2306.9ZM193.9 1074.1H364.3V1091.1H193.9ZM858.5 1074.1H892.6V1091.1H858.5ZM193.9 1091.1H347.3V1108.0H193.9ZM517.7 1091.1H568.8V1108.0H517.7ZM858.5 1091.1H892.6V1108.0H858.5ZM1148.2 1091.1H1182.3V1108.0H1148.2ZM211.0 1108.0H347.3V1125.0H211.0ZM517.7 1108.0H551.8V1125.0H517.7ZM841.5 1108.0H892.6V1125.0H841.5ZM1148.2 1108.0H1182.3V1125.0H1148.2ZM211.0 1125.0H330.3V1142.0H211.0ZM824.4 1125.0H892.6V1142.0H824.4ZM1148.2 1125.0H1182.3V1142.0H1148.2ZM790.3 1142.0H892.6V1159.0H790.3ZM1165.2 1142.0H1182.3V1159.0H1165.2ZM773.3 1159.0H892.6V1176.0H773.3ZM1165.2 1159.0H1199.3V1176.0H1165.2ZM1540.1 1159.0H1591.2V1176.0H1540.1ZM671.1 1176.0H688.1V1192.9H671.1ZM705.1 1176.0H892.6V1192.9H705.1ZM1165.2 1176.0H1284.5V1192.9H1165.2ZM1523.1 1176.0H1591.2V1192.9H1523.1ZM705.1 1192.9H892.6V1209.9H705.1ZM1165.2 1192.9H1335.6V1209.9H1165.2ZM1471.9 1192.9H1574.2V1209.9H1471.9ZM705.1 1209.9H909.6V1226.9H705.1ZM1148.2 1209.9H1369.7V1226.9H1148.2ZM1403.8 1209.9H1574.2V1226.9H1403.8ZM671.1 1226.9H977.8V1243.9H671.1ZM1148.2 1226.9H1557.1V1243.9H1148.2ZM637.0 1243.9H994.8V1260.9H637.0ZM1131.1 1243.9H1574.2V1260.9H1131.1ZM637.0 1260.9H994.8V1277.8H637.0ZM1148.2 1260.9H1557.1V1277.8H1148.2ZM619.9 1277.8H943.7V1294.8H619.9ZM1148.2 1277.8H1540.1V1294.8H1148.2ZM619.9 1294.8H926.7V1311.8H619.9ZM1148.2 1294.8H1540.1V1311.8H1148.2ZM2017.2 1294.8H2034.3V1311.8H2017.2ZM619.9 1311.8H926.7V1328.8H619.9ZM1148.2 1311.8H1523.1V1328.8H1148.2ZM2000.2 1311.8H2034.3V1328.8H2000.2ZM619.9 1328.8H960.7V1345.8H619.9ZM1131.1 1328.8H1284.5V1345.8H1131.1ZM1301.5 1328.8H1506.0V1345.8H1301.5ZM2000.2 1328.8H2051.3V1345.8H2000.2ZM637.0 1345.8H977.8V1362.7H637.0ZM1131.1 1345.8H1506.0V1362.7H1131.1ZM1966.1 1345.8H2068.3V1362.7H1966.1ZM637.0 1362.7H1028.9V1379.7H637.0ZM1114.1 1362.7H1489.0V1379.7H1114.1ZM1932.0 1362.7H2068.3V1379.7H1932.0ZM688.1 1379.7H722.2V1396.7H688.1ZM790.3 1379.7H1489.0V1396.7H790.3ZM1932.0 1379.7H2085.4V1396.7H1932.0ZM824.4 1396.7H1267.5V1413.7H824.4ZM1335.6 1396.7H1489.0V1413.7H1335.6ZM1915.0 1396.7H2102.4V1413.7H1915.0ZM841.5 1413.7H1250.4V1430.7H841.5ZM1352.7 1413.7H1454.9V1430.7H1352.7ZM1915.0 1413.7H2102.4V1430.7H1915.0ZM858.5 1430.7H1233.4V1447.6H858.5ZM1352.7 1430.7H1454.9V1447.6H1352.7ZM1932.0 1430.7H2119.5V1447.6H1932.0ZM858.5 1447.6H1233.4V1464.6H858.5ZM1352.7 1447.6H1369.7V1464.6H1352.7ZM1949.1 1447.6H2119.5V1464.6H1949.1ZM875.5 1464.6H892.6V1481.6H875.5ZM909.6 1464.6H1080.0V1481.6H909.6ZM1114.1 1464.6H1216.3V1481.6H1114.1ZM1540.1 1464.6H1574.2V1481.6H1540.1ZM1966.1 1464.6H2102.4V1481.6H1966.1ZM926.7 1481.6H1063.0V1498.6H926.7ZM1131.1 1481.6H1165.2V1498.6H1131.1ZM1540.1 1481.6H1574.2V1498.6H1540.1ZM2000.2 1481.6H2102.4V1498.6H2000.2ZM943.7 1498.6H1045.9V1515.6H943.7ZM1983.1 1498.6H2000.2V1515.6H1983.1ZM2051.3 1498.6H2068.3V1515.6H2051.3ZM943.7 1515.6H1045.9V1532.5H943.7ZM1966.1 1515.6H1983.1V1532.5H1966.1ZM960.7 1532.5H1011.9V1549.5H960.7ZM1028.9 1532.5H1045.9V1549.5H1028.9ZM960.7 1549.5H994.8V1566.5H960.7ZM1114.1 1566.5H1148.2V1583.5H1114.1ZM1114.1 1583.5H1131.1V1600.5H1114.1ZM1114.1 1600.5H1148.2V1617.4H1114.1ZM1233.4 1600.5H1284.5V1617.4H1233.4ZM1114.1 1617.4H1131.1V1634.4H1114.1ZM1216.3 1617.4H1318.6V1634.4H1216.3ZM1199.3 1634.4H1318.6V1651.4H1199.3ZM1335.6 1634.4H1352.7V1651.4H1335.6ZM1182.3 1651.4H1318.6V1668.4H1182.3ZM1165.2 1668.4H1318.6V1685.4H1165.2ZM1165.2 1685.4H1301.5V1702.3H1165.2ZM1165.2 1702.3H1284.5V1719.3H1165.2ZM1165.2 1719.3H1250.4V1736.3H1165.2ZM1182.3 1736.3H1233.4V1753.3H1182.3ZM1182.3 1753.3H1199.3V1770.3H1182.3Z" fill="#559ec9" shape-rendering="crispEdges"/>
<polygon points="2110.0,1960.0 2115.0,1940.0 2150.0,1927.5 2195.0,1907.5 2230.0,1905.0 2250.0,1900.0 2262.0,1904.0 2285.0,1897.5 2315.0,1902.5 2350.0,1910.0 2375.0,1922.5 2400.0,1921.0 2440.0,1930.0 2477.5,1935.0 2495.0,1942.0 2500.0,1960.0" fill="#efefdb" stroke="#000" stroke-width="4.2" stroke-linejoin="round"/>
<polygon points="2335.0,1652.5 2350.0,1660.0 2395.0,1640.0 2393.0,1636.0 2360.0,1642.5" fill="#efefdb" stroke="#000" stroke-width="4.2" stroke-linejoin="round"/>
<polygon points="2390.0,1625.0 2412.5,1622.5 2445.0,1640.0 2450.0,1652.5 2442.5,1680.0 2432.5,1672.5 2440.0,1650.0 2425.0,1635.0" fill="#efefdb" stroke="#000" stroke-width="4.2" stroke-linejoin="round"/>
<polygon points="2400.0,1737.5 2422.5,1747.5 2435.0,1770.0 2422.5,1790.0 2395.0,1775.0 2405.0,1755.0" fill="#efefdb" stroke="#000" stroke-width="4.2" stroke-linejoin="round"/>
<polygon points="2425.0,1792.5 2450.0,1792.5 2457.5,1820.0 2445.0,1822.5 2430.0,1802.5" fill="#efefdb" stroke="#000" stroke-width="4.2" stroke-linejoin="round"/>
<polygon points="2477.5,1697.5 2515.0,1712.5 2522.5,1742.5 2512.0,1725.0 2480.0,1703.0" fill="#efefdb" stroke="#000" stroke-width="4.2" stroke-linejoin="round"/>
<polygon points="2438.0,1737.0 2447.0,1733.0 2450.0,1737.0 2440.0,1740.0" fill="#efefdb" stroke="#000" stroke-width="4.2" stroke-linejoin="round"/>
<polygon points="2547.5,1735.0 2580.0,1762.5 2576.0,1765.0 2545.0,1740.0" fill="#efefdb" stroke="#000" stroke-width="4.2" stroke-linejoin="round"/>
<polygon points="2590.0,1792.5 2627.5,1835.0 2622.0,1838.0 2588.0,1797.0" fill="#efefdb" stroke="#000" stroke-width="4.2" stroke-linejoin="round"/>
<polygon points="2547.5,1805.0 2572.5,1811.0 2570.0,1815.0 2546.0,1809.0" fill="#efefdb" stroke="#000" stroke-width="4.2" stroke-linejoin="round"/>
<polygon points="2628.0,1752.0 2632.0,1750.0 2634.0,1758.0 2629.0,1760.0" fill="#efefdb" stroke="#000" stroke-width="4.2" stroke-linejoin="round"/>
<polygon points="2660.0,1830.0 2692.5,1840.0 2672.5,1870.0 2670.0,1866.0 2685.0,1842.0 2660.0,1834.0" fill="#efefdb" stroke="#000" stroke-width="4.2" stroke-linejoin="round"/>
<polygon points="2735.0,1837.5 2760.0,1835.0 2758.0,1840.0 2736.0,1841.0" fill="#efefdb" stroke="#000" stroke-width="4.2" stroke-linejoin="round"/>
<polygon points="2795.0,1862.5 2820.0,1847.5 2822.0,1852.0 2797.0,1866.0" fill="#efefdb" stroke="#000" stroke-width="4.2" stroke-linejoin="round"/>
<polygon points="2757.0,1890.0 2764.0,1888.0 2766.0,1894.0 2758.0,1896.0" fill="#efefdb" stroke="#000" stroke-width="4.2" stroke-linejoin="round"/>
<polygon points="2730.0,1935.0 2765.0,1910.0 2765.0,1920.0 2757.0,1932.0 2735.0,1942.0" fill="#efefdb" stroke="#000" stroke-width="4.2" stroke-linejoin="round"/>
<polygon points="2350.0,1905.0 2365.0,1910.0 2362.0,1913.0 2349.0,1908.0" fill="#efefdb" stroke="#000" stroke-width="4.2" stroke-linejoin="round"/>
<polygon points="2407.5,1910.0 2425.0,1906.0 2450.0,1920.0 2477.5,1930.0 2475.0,1935.0 2448.0,1925.0 2408.0,1914.0" fill="#efefdb" stroke="#000" stroke-width="4.2" stroke-linejoin="round"/>
<polygon points="120.0,1088.0 135.0,1090.0 140.0,1096.0 128.0,1095.0" fill="#efefdb" stroke="#000" stroke-width="4.2" stroke-linejoin="round"/>
<polygon points="145.0,1100.0 160.0,1100.0 170.0,1104.0 152.0,1106.0" fill="#efefdb" stroke="#000" stroke-width="4.2" stroke-linejoin="round"/>
<polygon points="158.0,1148.0 164.0,1146.0 166.0,1153.0 160.0,1154.0" fill="#efefdb" stroke="#000" stroke-width="4.2" stroke-linejoin="round"/>
<polygon points="208.0,1150.0 218.0,1153.0 220.0,1160.0 210.0,1157.0" fill="#efefdb" stroke="#000" stroke-width="4.2" stroke-linejoin="round"/>
<polygon points="202.0,1180.0 206.0,1176.0 212.0,1190.0 206.0,1192.0" fill="#efefdb" stroke="#000" stroke-width="4.2" stroke-linejoin="round"/>
<polygon points="143.0,1410.0 148.0,1409.0 150.0,1428.0 145.0,1430.0" fill="#efefdb" stroke="#000" stroke-width="4.2" stroke-linejoin="round"/>
<polygon points="292.0,1520.0 300.0,1508.0 303.0,1522.0 293.0,1527.0" fill="#efefdb" stroke="#000" stroke-width="4.2" stroke-linejoin="round"/>
<polygon points="406.0,1455.0 412.0,1453.0 425.0,1475.0 425.0,1492.0 420.0,1490.0 408.0,1470.0" fill="#efefdb" stroke="#000" stroke-width="4.2" stroke-linejoin="round"/>
<polygon points="455.0,1492.0 462.0,1480.0 475.0,1490.0 470.0,1515.0 462.0,1520.0 454.0,1512.0" fill="#efefdb" stroke="#000" stroke-width="4.2" stroke-linejoin="round"/>
<polygon points="462.0,1645.0 472.0,1642.0 468.0,1660.0 463.0,1655.0" fill="#efefdb" stroke="#000" stroke-width="4.2" stroke-linejoin="round"/>
<polygon points="488.0,1700.0 500.0,1701.0 490.0,1716.0" fill="#efefdb" stroke="#000" stroke-width="4.2" stroke-linejoin="round"/>
<polygon points="512.0,1765.0 517.0,1772.0 515.0,1780.0 510.0,1775.0" fill="#efefdb" stroke="#000" stroke-width="4.2" stroke-linejoin="round"/>
<polygon points="550.0,1823.0 553.0,1835.0 549.0,1838.0" fill="#efefdb" stroke="#000" stroke-width="4.2" stroke-linejoin="round"/>
<polygon points="672.0,1835.0 688.0,1838.0 690.0,1845.0 676.0,1843.0" fill="#efefdb" stroke="#000" stroke-width="4.2" stroke-linejoin="round"/>
<polyline points="288.7,181.8 289.2,192.0 289.6,203.0" fill="none" stroke="#000" stroke-width="8" stroke-linejoin="round" stroke-linecap="round"/>
<polyline points="313.0,226.0 318.0,240.0 316.0,255.0 312.0,268.0 306.0,280.0 298.0,290.0" fill="none" stroke="#000" stroke-width="6" stroke-linejoin="round" stroke-linecap="round"/>
<polyline points="282.0,275.0 296.0,262.0 306.0,256.0" fill="none" stroke="#000" stroke-width="5" stroke-linejoin="round" stroke-linecap="round"/>
<polyline points="299.0,204.0 303.0,209.0" fill="none" stroke="#000" stroke-width="8" stroke-linejoin="round" stroke-linecap="round"/>
<polyline points="309.0,203.0 312.0,208.0 308.0,217.0" fill="none" stroke="#000" stroke-width="7" stroke-linejoin="round" stroke-linecap="round"/>
<polyline points="2200.0,1817.5 2215.0,1810.0 2232.0,1803.0 2250.0,1795.0 2265.0,1785.0 2276.0,1770.0" fill="none" stroke="#000" stroke-width="4.2" stroke-linejoin="round" stroke-linecap="round" stroke-dasharray="6 5"/>
<polygon points="2386.0,745.7 2408.5,723.0 2439.3,709.6 2451.3,697.6 2470.0,697.6 2444.6,717.6 2419.2,736.4 2387.0,752.4" fill="#a7d0e4" stroke="#000" stroke-width="4.2" stroke-linejoin="round"/>
<polyline points="2393.9,800.0 2391.2,817.4 2381.9,821.4 2379.2,833.5 2373.8,846.8 2365.8,861.6 2360.4,846.8 2353.8,845.5 2339.0,840.1 2328.3,830.8 2327.0,820.1 2333.7,810.7 2344.4,804.0" fill="none" stroke="#000" stroke-width="4.2" stroke-linejoin="round" stroke-linecap="round"/>
<polyline points="2327.0,826.8 2341.7,848.2 2347.1,860.2 2360.4,870.9 2363.1,880.3 2367.1,887.0 2369.8,893.7 2368.5,907.1 2363.1,920.4 2359.1,933.8 2357.8,947.2 2352.4,960.6 2347.1,978.0 2345.7,971.3 2347.1,953.9 2349.7,925.8 2343.1,928.5 2336.4,917.8 2332.3,907.1 2325.7,911.1 2314.9,907.1 2309.6,896.4 2314.9,892.3 2323.0,892.3 2309.6,887.0 2305.6,875.0 2308.3,860.2 2304.2,848.2 2308.3,837.5 2314.9,840.1" fill="none" stroke="#000" stroke-width="4.2" stroke-linejoin="round" stroke-linecap="round"/>
<polyline points="2309.6,836.1 2296.2,846.8 2285.5,860.2 2290.9,872.3 2293.5,885.7 2298.9,901.7 2306.9,911.1 2312.3,923.1" fill="none" stroke="#000" stroke-width="4.2" stroke-linejoin="round" stroke-linecap="round"/>
<polyline points="2270.8,885.7 2264.1,904.4 2264.1,920.4 2274.8,915.1 2286.8,920.4 2312.3,927.1 2320.3,947.2 2317.6,955.2 2298.9,941.9 2277.5,932.5" fill="none" stroke="#000" stroke-width="4.2" stroke-linejoin="round" stroke-linecap="round"/>
<polyline points="2302.9,967.3 2323.0,980.7 2327.0,961.9" fill="none" stroke="#000" stroke-width="4.2" stroke-linejoin="round" stroke-linecap="round"/>
<polyline points="2281.5,983.4 2312.3,983.4 2333.7,1000.0 2345.0,1012.0" fill="none" stroke="#000" stroke-width="4.2" stroke-linejoin="round" stroke-linecap="round"/>
<polyline points="2373.7,712.3 2381.7,720.3 2383.0,733.7 2373.7,751.1" fill="none" stroke="#000" stroke-width="4.2" stroke-linejoin="round" stroke-linecap="round"/>
<polyline points="1955.0,180.0 1975.0,190.0 2000.0,192.0 2015.0,202.0" fill="none" stroke="#000" stroke-width="4.2" stroke-linejoin="round" stroke-linecap="round"/>
<polyline points="215.0,327.5 232.5,332.5 240.0,337.5 247.5,345.0 252.5,346.2" fill="none" stroke="#000" stroke-width="4.2" stroke-linejoin="round" stroke-linecap="round"/>
<polyline points="1288.1,1700.0 1293.0,1690.0 1306.9,1676.3 1320.0,1662.0 1345.7,1642.2 1367.1,1625.4" fill="none" stroke="#000" stroke-width="4.2" stroke-linejoin="round" stroke-linecap="round"/>
<polyline points="1297.5,1785.0 1292.0,1760.0 1288.0,1735.0 1290.0,1712.0" fill="none" stroke="#000" stroke-width="4.2" stroke-linejoin="round" stroke-linecap="round"/>
<polyline points="2208.0,1542.0 2215.0,1555.0 2228.0,1578.0 2240.0,1600.0" fill="none" stroke="#000" stroke-width="4.2" stroke-linejoin="round" stroke-linecap="round"/>
<polyline points="2322.8,1043.6 2325.0,1059.6 2337.8,1056.4 2351.8,1051.1 2359.3,1051.1 2362.5,1065.0" fill="none" stroke="#000" stroke-width="4.2" stroke-linejoin="round" stroke-linecap="round"/>
<polyline points="2363.6,1054.3 2368.9,1048.9 2376.4,1056.4 2376.4,1067.1 2366.8,1082.1 2361.4,1089.6 2344.3,1087.5 2340.0,1084.3 2337.8,1089.6 2317.5,1088.6 2333.6,1093.9 2346.4,1098.2 2343.2,1113.2 2334.6,1120.7 2321.8,1112.1" fill="none" stroke="#000" stroke-width="4.2" stroke-linejoin="round" stroke-linecap="round"/>
<polyline points="2343.2,1113.2 2351.8,1115.3 2359.3,1118.5 2356.1,1128.2 2346.4,1132.5" fill="none" stroke="#000" stroke-width="4.2" stroke-linejoin="round" stroke-linecap="round"/>
<polyline points="2312.1,990.0 2325.0,999.6 2331.4,996.4 2348.6,993.2 2357.1,1008.2" fill="none" stroke="#000" stroke-width="4.2" stroke-linejoin="round" stroke-linecap="round"/>
<polyline points="2348.6,1032.8 2350.7,1043.6 2342.1,1047.8 2334.6,1050.0" fill="none" stroke="#000" stroke-width="4.2" stroke-linejoin="round" stroke-linecap="round"/>
<polyline points="1673.0,1522.3 1681.8,1505.8 1692.5,1506.8 1698.3,1511.6 1715.8,1516.5 1701.2,1519.4 1694.4,1526.2 1685.6,1528.2 1673.0,1522.3" fill="none" stroke="#000" stroke-width="4.2" stroke-linejoin="round" stroke-linecap="round"/>
<polyline points="1755.8,1520.4 1760.6,1530.1 1754.8,1545.7" fill="none" stroke="#000" stroke-width="4.2" stroke-linejoin="round" stroke-linecap="round"/>
<polyline points="1764.5,1508.7 1773.3,1509.7" fill="none" stroke="#000" stroke-width="4.2" stroke-linejoin="round" stroke-linecap="round"/>
<polyline points="1786.0,1506.8 1800.0,1502.9" fill="none" stroke="#000" stroke-width="4.2" stroke-linejoin="round" stroke-linecap="round"/>
<polyline points="112.3,818.6 119.3,817.7 126.3,824.7 136.0,824.7 139.5,828.2 152.6,832.6 157.9,837.0 149.1,835.2 137.7,831.7 126.3,829.1 114.9,830.9 116.7,843.1 120.2,850.2 121.0,863.3 114.0,856.3 109.6,844.9 108.8,835.2" fill="none" stroke="#000" stroke-width="4.2" stroke-linejoin="round" stroke-linecap="round"/>
<polyline points="236.6,179.9 278.1,214.6 284.8,211.7 290.6,213.6 290.6,200.1" fill="none" stroke="#000" stroke-width="4.4" stroke-linejoin="round" stroke-linecap="round"/>
<polyline points="318.6,165.0 319.5,181.8 322.4,187.6 322.4,195.3 327.2,204.9 324.3,216.5 323.4,230.0 322.4,238.7 323.4,251.2 314.7,260.8 309.9,272.4 307.0,285.9 296.4,293.6 286.7,299.4 275.2,292.6 284.8,284.9 302.2,272.4 306.0,260.8 304.1,239.6 296.4,239.6 292.5,233.8 286.7,231.9 259.8,220.3 253.0,214.6 236.6,197.2 228.9,219.4 231.8,235.8 230.8,262.7 227.0,286.8 238.6,290.7 225.1,292.6 229.9,306.1 219.3,320.0 215.0,327.5 218.8,332.5 205.0,370.0 192.5,400.0 172.5,440.0 156.2,472.5 142.5,490.0 122.5,515.0 115.0,550.0 117.5,570.0 110.0,585.0 112.5,605.0 90.0,640.0 80.0,650.0 75.0,665.0 85.0,690.0 87.5,710.0 79.0,725.0 74.0,752.5 80.0,770.0 92.5,790.0 95.0,805.0 87.5,817.5 100.0,830.0 107.5,845.0 102.5,870.0 107.5,887.5 120.0,900.0 117.5,910.0 107.5,920.0 106.0,932.5 112.5,950.0 120.0,972.5 122.5,980.0 132.5,995.0 135.0,1005.0 132.5,1017.5 140.0,1027.5 135.0,1050.0 137.5,1060.0 157.5,1070.0 175.0,1080.0 190.0,1095.0 192.5,1105.0 210.0,1115.0 225.0,1120.0 230.0,1140.0 240.0,1142.5 250.0,1155.0 265.0,1175.0 270.0,1195.0 267.5,1220.0 268.5,1227.5" fill="none" stroke="#000" stroke-width="4.4" stroke-linejoin="round" stroke-linecap="round"/>
<polyline points="268.5,1227.5 270.0,1242.5 275.0,1250.0 275.0,1265.0 284.0,1277.5 277.5,1282.5 279.0,1295.0 290.0,1320.0 287.5,1332.5 297.5,1347.5 294.0,1372.5 301.0,1380.0 297.5,1400.0 300.0,1415.0 320.0,1440.0 332.5,1450.0 347.5,1475.0 365.0,1505.0 368.5,1520.0 360.0,1537.5 350.0,1545.0 335.0,1552.5 305.0,1542.5 307.5,1550.0 325.0,1572.5 327.5,1587.5 342.5,1597.5 352.5,1610.0 365.0,1627.5 380.0,1627.5 395.0,1622.5 397.5,1640.0 415.0,1667.5 430.0,1677.5 437.5,1705.0 437.5,1722.5 430.0,1742.5 420.0,1765.0 422.5,1785.0 447.5,1790.0 460.0,1807.5 480.0,1827.5 497.5,1852.5 512.5,1865.0 520.0,1885.0 522.5,1912.5 530.0,1917.5 545.0,1910.0 557.5,1902.5 566.0,1882.5 555.0,1870.0 552.5,1857.5 540.0,1835.0 525.0,1820.0 520.0,1832.5 507.5,1825.0 502.5,1812.5 500.0,1795.0 507.5,1780.0 505.0,1770.0 495.0,1755.0 495.0,1735.0 487.5,1730.0 482.5,1700.0 482.5,1665.0 472.5,1647.5 460.0,1630.0 452.5,1620.0 447.5,1597.5 430.0,1570.0 432.5,1545.0 425.0,1530.0 417.5,1510.0 412.5,1495.0 405.0,1495.0 402.5,1480.0 390.0,1450.0 370.0,1427.5 362.5,1410.0 365.0,1390.0 365.0,1350.0 362.5,1340.0 375.0,1310.0 380.0,1302.5 372.5,1295.0 385.0,1307.5 407.5,1330.0 420.0,1325.0 432.5,1335.0 432.5,1347.5 460.0,1360.0 455.0,1370.0 452.5,1387.5 460.0,1415.0 462.5,1442.5 472.5,1470.0 477.5,1490.0 480.0,1510.0 492.5,1535.0 507.5,1550.0 520.0,1577.5 535.0,1587.5 552.5,1595.0 545.0,1615.0 550.0,1632.5 562.5,1645.0 577.5,1652.5 582.5,1672.5 600.0,1680.0 610.0,1695.0 612.5,1710.0 595.0,1720.0 592.5,1740.0 602.5,1750.0 620.0,1747.5 610.0,1757.5 625.0,1762.5 627.5,1770.0 645.0,1785.0 662.5,1795.0 652.5,1797.5 662.5,1817.5 665.0,1827.5 680.0,1837.5 675.0,1840.0 712.5,1872.5 730.0,1907.5 742.5,1930.0 752.5,1940.0 762.0,1950.0" fill="none" stroke="#000" stroke-width="4.4" stroke-linejoin="round" stroke-linecap="round"/>
<polyline points="1260.0,1950.0 1262.5,1940.0 1267.5,1890.0 1277.5,1850.0 1292.5,1820.0 1300.0,1790.0 1297.5,1785.0 1287.5,1755.0 1280.0,1730.0 1285.0,1712.5 1267.5,1700.0 1290.0,1680.0 1310.0,1657.5 1322.5,1655.0 1345.0,1640.0 1365.0,1627.5 1405.0,1600.0 1430.0,1580.0 1450.0,1570.0 1485.0,1555.0 1520.0,1552.5 1550.0,1562.5 1560.0,1562.3 1573.6,1563.2 1584.4,1559.3 1579.5,1554.5 1585.3,1547.7 1593.1,1545.2 1597.0,1550.6 1605.8,1550.6 1614.5,1561.3 1626.2,1563.2 1628.2,1561.3 1631.1,1569.1 1636.0,1574.0 1635.0,1575.9 1627.2,1577.9 1657.4,1586.6 1662.3,1584.7 1667.1,1576.9 1675.9,1574.9 1682.7,1578.8 1686.6,1586.6 1692.5,1583.7 1695.4,1572.0 1696.4,1563.2 1689.5,1559.3 1706.1,1565.2 1710.0,1570.1 1717.8,1571.0 1728.5,1576.9 1733.4,1582.7 1735.3,1590.5 1740.2,1584.7 1745.1,1587.6 1749.0,1581.8 1753.8,1577.9 1750.0,1574.9 1744.1,1567.1 1725.6,1563.2 1714.9,1553.5 1712.9,1551.6 1717.8,1546.7 1722.7,1541.8 1731.4,1537.0 1729.5,1530.1 1725.6,1523.3 1720.7,1524.3 1717.8,1532.1 1710.0,1532.1 1706.1,1527.2 1712.0,1520.4 1715.8,1515.5 1724.6,1512.6 1731.4,1504.8 1740.2,1502.9 1753.8,1498.0 1764.5,1500.9 1793.8,1497.0 1798.6,1477.5 1810.0,1495.0 1835.0,1497.5 1850.0,1485.0 1857.5,1490.0 1885.0,1482.5 1905.0,1485.0 1930.0,1497.5 1950.0,1515.0 1952.5,1524.0 1985.0,1512.5 2002.5,1500.0 2020.0,1487.5 2042.5,1497.5 2067.5,1522.5 2100.0,1542.5 2107.5,1570.0 2107.5,1615.0 2110.0,1625.0 2125.0,1615.0 2117.5,1640.0 2140.0,1665.0 2155.0,1675.0 2157.5,1692.5 2170.0,1700.0 2182.5,1722.5 2210.0,1732.5 2232.5,1760.0 2230.0,1770.0 2250.0,1767.5 2270.0,1760.0 2280.0,1740.0 2282.5,1715.0 2277.5,1675.0 2265.0,1635.0 2245.0,1605.0 2215.0,1560.0 2185.0,1515.0 2155.0,1450.0 2147.5,1415.0 2147.5,1400.0 2155.0,1365.0 2165.0,1340.0 2170.0,1335.0 2177.5,1317.5 2200.0,1302.5 2212.5,1285.0 2222.5,1275.0 2237.5,1255.0 2240.0,1237.5 2250.0,1217.5 2265.0,1202.5 2292.5,1195.0 2295.0,1180.0 2310.0,1155.0 2312.1,1147.5 2322.8,1140.0 2346.4,1132.5 2357.1,1137.8 2366.8,1115.3 2374.3,1101.4 2388.2,1091.8 2397.8,1086.4 2396.8,1073.6 2389.3,1056.4 2371.1,1035.0 2357.1,1008.2 2347.5,977.5 2355.0,960.0 2367.5,915.0 2372.5,887.5 2365.0,870.0 2345.0,835.0 2330.0,822.5 2350.0,830.0 2372.5,855.0 2380.0,830.0 2392.5,795.0 2392.5,775.0 2385.0,762.5 2375.0,757.5 2372.5,740.0 2400.0,712.5 2430.0,695.0 2480.0,670.0 2485.0,660.0 2500.0,650.0 2520.0,637.5 2542.5,630.0 2540.0,617.5 2527.5,612.5 2520.0,625.0 2500.0,630.0 2485.0,610.0 2490.0,587.5 2482.5,577.5 2482.5,550.0 2487.0,542.5 2493.5,525.0 2501.0,510.0 2511.0,500.0 2525.0,495.0 2531.0,485.0 2535.0,465.0 2537.0,452.5 2548.5,465.0 2561.0,457.5 2571.0,445.0 2578.5,435.0 2591.0,425.0 2601.0,415.0 2603.5,407.5 2596.0,402.5 2591.0,392.5 2598.5,395.0 2611.0,390.0 2621.0,380.0 2628.5,370.0 2638.5,367.5 2654.0,351.0 2664.0,341.0 2674.5,331.0 2674.5,311.0 2684.0,320.0 2697.0,339.0 2737.0,323.0 2694.0,345.0 2672.0,375.0 2654.0,399.0 2648.0,417.0 2652.0,437.0 2664.0,451.0 2678.0,459.0 2689.0,461.0 2703.0,445.0 2713.0,427.0 2721.0,397.0 2721.0,381.0 2735.0,373.0 2749.0,373.0 2745.0,363.0 2761.0,355.0 2781.0,339.0 2797.0,323.0 2819.0,300.0" fill="none" stroke="#000" stroke-width="4.4" stroke-linejoin="round" stroke-linecap="round"/>
<polyline points="2606.0,194.0 2596.0,202.0 2572.0,202.0 2560.0,210.0 2586.0,218.0 2596.0,228.0 2608.0,212.0 2628.0,208.0 2631.0,192.0 2628.0,214.0 2626.0,222.0 2630.0,236.0 2620.0,256.0 2640.0,250.0 2648.0,268.0 2664.0,286.0 2672.0,292.0 2696.5,286.5 2692.0,299.0 2716.0,298.0 2752.0,290.0 2765.0,288.0 2779.0,270.0 2789.0,278.0 2801.0,272.0 2819.0,266.0 2805.0,268.0 2793.0,246.0 2795.0,210.0 2803.0,182.0" fill="none" stroke="#000" stroke-width="4.4" stroke-linejoin="round" stroke-linecap="round"/>
<polyline points="2664.4,264.4 2672.4,236.3 2680.5,258.4 2696.5,260.4 2718.6,256.3 2762.8,239.3 2748.8,260.4 2755.8,272.4 2740.7,278.4 2726.7,274.4 2708.6,278.4 2696.5,268.4 2684.5,274.4 2664.4,264.4" fill="none" stroke="#000" stroke-width="4.4" stroke-linejoin="round" stroke-linecap="round"/>
<polyline points="2463.5,165.0 2452.0,195.0 2442.0,210.0 2436.0,232.5 2428.5,252.5 2426.0,275.0 2417.0,300.0 2410.0,325.0 2401.0,342.5 2371.0,367.5 2358.5,382.5 2336.0,407.5 2328.5,422.5 2323.5,445.0 2313.5,450.0 2302.0,462.5 2283.5,501.0" fill="none" stroke="#000" stroke-width="4.4" stroke-linejoin="round" stroke-linecap="round"/>
<polyline points="2507.0,165.0 2481.0,205.0 2456.0,237.5 2441.0,267.5 2431.0,295.0 2418.5,332.5 2396.0,355.0 2371.0,372.5 2356.0,390.0 2333.5,412.5 2326.0,442.5 2321.0,460.0 2288.5,497.5" fill="none" stroke="#000" stroke-width="4.4" stroke-linejoin="round" stroke-linecap="round"/>
<polyline points="2380.0,750.0 2470.0,697.5 2445.0,705.0 2390.0,740.0 2380.0,750.0" fill="none" stroke="#000" stroke-width="4.4" stroke-linejoin="round" stroke-linecap="round"/>
<polyline points="268.5,1227.5 397.5,1247.5 387.5,1260.0 567.5,1375.0 670.0,1395.0 715.0,1402.5 722.5,1376.0 807.5,1387.5 825.0,1410.0 880.0,1465.0 892.5,1500.0 897.5,1525.0 927.5,1557.5 970.0,1582.5 995.0,1560.0 1000.0,1545.0 1025.0,1532.5 1070.0,1542.5 1105.0,1577.5 1120.0,1625.0 1165.0,1682.5 1170.0,1722.5 1185.0,1760.0 1230.0,1782.5 1265.0,1790.0 1290.0,1797.5 1297.5,1785.0" fill="none" stroke="#000" stroke-width="4.4" stroke-linejoin="round" stroke-linecap="butt" stroke-dasharray="7.4 3.6"/>
<polyline points="2591.0,392.5 2583.5,395.0 2573.5,387.5 2566.0,367.5 2551.0,367.5 2548.5,360.0 2523.5,292.5 2501.0,283.8 2478.5,301.2 2468.5,291.2 2459.8,291.2 2443.5,345.0 2446.0,362.5 2442.2,377.5 2448.5,395.0 2441.0,412.5 2436.0,432.5 2423.5,442.5 2416.0,445.0 2413.5,463.8 2376.0,476.0 2283.5,501.2 2265.0,510.0 2245.0,530.0 2235.0,555.0 2200.0,570.0 2175.0,585.0 2120.0,605.0 2095.0,630.0 2092.5,652.5 2122.5,650.0 2135.0,670.0 2055.0,720.0 1980.0,765.0 1972.5,740.0 1977.5,685.0 1980.0,655.0 1962.5,592.5 1945.0,550.0 1910.0,522.5 1882.5,520.0 1870.0,505.0 1835.0,472.5 1685.0,402.5 1640.0,425.0 1620.0,422.5 1580.0,417.5 1560.0,427.5 1520.0,412.5 1490.0,395.0 1465.0,400.0 1427.5,387.5 1420.0,352.5 1409.0,350.0 1407.5,374.0 1325.0,372.5 1100.0,360.0 800.0,316.0 540.0,258.8" fill="none" stroke="#000" stroke-width="4.4" stroke-linejoin="round" stroke-linecap="butt" stroke-dasharray="7.4 3.6"/>
<polyline points="252.5,346.2 257.5,355.0 257.5,380.0 280.0,393.8 295.0,391.2 316.2,400.0 322.5,405.0 360.0,410.0 395.0,409.5 412.5,411.2 497.5,435.0" fill="none" stroke="#000" stroke-width="4.4" stroke-linejoin="round" stroke-linecap="butt" stroke-dasharray="5.2 5.8"/>
<polyline points="540.0,258.8 498.8,412.5 497.5,435.0" fill="none" stroke="#000" stroke-width="4.4" stroke-linejoin="round" stroke-linecap="butt" stroke-dasharray="5.2 5.8"/>
<polyline points="497.5,435.0 508.8,460.0 500.0,477.5 487.5,495.0 465.0,520.0 461.2,532.5 470.0,540.0 457.5,565.0 450.0,590.0 430.0,667.5" fill="none" stroke="#000" stroke-width="4.4" stroke-linejoin="round" stroke-linecap="butt" stroke-dasharray="5.2 5.8"/>
<polyline points="578.8,270.0 565.0,327.5 571.2,360.0 570.0,367.5 582.5,380.0 597.5,413.8 613.8,425.0 602.5,445.0 597.5,470.0 591.2,482.5 596.2,492.5 613.8,485.0 620.0,495.0 622.5,520.0 630.0,542.5 640.0,570.0 670.0,570.0 705.0,575.0 712.5,567.5 720.0,577.5 730.0,555.0" fill="none" stroke="#000" stroke-width="4.4" stroke-linejoin="round" stroke-linecap="butt" stroke-dasharray="5.2 5.8"/>
<polyline points="730.0,555.0 690.0,730.0" fill="none" stroke="#000" stroke-width="4.4" stroke-linejoin="round" stroke-linecap="butt" stroke-dasharray="5.2 5.8"/>
<polyline points="730.0,555.0 1025.0,597.5" fill="none" stroke="#000" stroke-width="4.4" stroke-linejoin="round" stroke-linecap="butt" stroke-dasharray="5.2 5.8"/>
<polyline points="120.0,570.0 297.5,630.0 427.5,670.0 560.0,702.5 690.0,730.0" fill="none" stroke="#000" stroke-width="4.4" stroke-linejoin="round" stroke-linecap="butt" stroke-dasharray="5.2 5.8"/>
<polyline points="297.5,630.0 245.0,805.0 310.0,900.0 370.0,980.0 435.0,1110.0 440.0,1140.0 447.5,1155.0 425.0,1175.0 405.0,1210.0 407.5,1235.0 400.0,1250.0" fill="none" stroke="#000" stroke-width="4.4" stroke-linejoin="round" stroke-linecap="butt" stroke-dasharray="5.2 5.8"/>
<polyline points="435.0,1110.0 440.0,1070.0 445.0,1045.0 470.0,1055.0 480.0,1045.0 495.0,1000.0" fill="none" stroke="#000" stroke-width="4.4" stroke-linejoin="round" stroke-linecap="butt" stroke-dasharray="5.2 5.8"/>
<polyline points="560.0,707.5 495.0,1000.0" fill="none" stroke="#000" stroke-width="4.4" stroke-linejoin="round" stroke-linecap="butt" stroke-dasharray="5.2 5.8"/>
<polyline points="495.0,1000.0 730.0,1047.5" fill="none" stroke="#000" stroke-width="4.4" stroke-linejoin="round" stroke-linecap="butt" stroke-dasharray="5.2 5.8"/>
<polyline points="730.0,1047.5 770.0,807.5" fill="none" stroke="#000" stroke-width="4.4" stroke-linejoin="round" stroke-linecap="butt" stroke-dasharray="5.2 5.8"/>
<polyline points="690.0,727.5 682.5,790.0 770.0,807.5 1002.5,840.0 1092.5,847.5 1075.0,1092.5" fill="none" stroke="#000" stroke-width="4.4" stroke-linejoin="round" stroke-linecap="butt" stroke-dasharray="5.2 5.8"/>
<polyline points="730.0,1047.5 672.5,1395.0" fill="none" stroke="#000" stroke-width="4.4" stroke-linejoin="round" stroke-linecap="butt" stroke-dasharray="5.2 5.8"/>
<polyline points="730.0,1047.5 1025.0,1090.0 1022.5,1120.0 992.5,1395.0" fill="none" stroke="#000" stroke-width="4.4" stroke-linejoin="round" stroke-linecap="butt" stroke-dasharray="5.2 5.8"/>
<polyline points="1022.5,1120.0 1170.0,1130.0 1165.0,1247.5" fill="none" stroke="#000" stroke-width="4.4" stroke-linejoin="round" stroke-linecap="butt" stroke-dasharray="5.2 5.8"/>
<polyline points="1075.0,1092.5 1252.0,1102.5 1432.5,1105.0 1440.0,1135.0" fill="none" stroke="#000" stroke-width="4.4" stroke-linejoin="round" stroke-linecap="butt" stroke-dasharray="5.2 5.8"/>
<polyline points="1062.5,355.0 1025.0,597.5 1017.5,717.5 1002.5,840.0" fill="none" stroke="#000" stroke-width="4.4" stroke-linejoin="round" stroke-linecap="butt" stroke-dasharray="5.2 5.8"/>
<polyline points="1037.5,540.0 1252.0,557.5 1345.0,557.5" fill="none" stroke="#000" stroke-width="4.4" stroke-linejoin="round" stroke-linecap="butt" stroke-dasharray="5.2 5.8"/>
<polyline points="1017.5,717.5 1252.0,735.0 1260.0,737.5 1285.0,750.0 1310.0,745.0 1345.0,765.0 1350.0,767.5" fill="none" stroke="#000" stroke-width="4.4" stroke-linejoin="round" stroke-linecap="butt" stroke-dasharray="5.2 5.8"/>
<polyline points="1100.0,910.0 1400.0,920.0 1420.0,932.5" fill="none" stroke="#000" stroke-width="4.4" stroke-linejoin="round" stroke-linecap="butt" stroke-dasharray="5.2 5.8"/>
<polyline points="1350.0,767.5 1370.0,810.0 1377.5,850.0 1390.0,900.0 1420.0,932.5 1415.0,955.0 1437.5,975.0 1440.0,1135.0 1450.0,1205.0 1447.5,1310.0" fill="none" stroke="#000" stroke-width="4.4" stroke-linejoin="round" stroke-linecap="butt" stroke-dasharray="5.2 5.8"/>
<polyline points="1327.5,375.0 1330.0,390.0 1337.5,450.0 1340.0,495.0 1347.5,540.0 1345.0,557.5 1340.0,580.0 1355.0,600.0 1352.5,707.5 1350.0,752.5 1355.0,770.0" fill="none" stroke="#000" stroke-width="4.4" stroke-linejoin="round" stroke-linecap="butt" stroke-dasharray="5.2 5.8"/>
<polyline points="1347.5,710.0 1580.0,702.5" fill="none" stroke="#000" stroke-width="4.4" stroke-linejoin="round" stroke-linecap="butt" stroke-dasharray="5.2 5.8"/>
<polyline points="1530.0,510.0 1530.0,545.0 1510.0,570.0 1515.0,625.0 1550.0,655.0 1580.0,675.0 1587.5,712.5 1595.0,745.0 1615.0,760.0 1637.5,790.0 1630.0,820.0 1600.0,830.0 1602.5,850.0 1582.5,885.0 1585.0,925.0 1620.0,960.0 1630.0,980.0 1650.0,985.0 1642.5,1017.5 1660.0,1035.0 1685.0,1055.0 1690.0,1080.0 1705.0,1095.0 1707.5,1115.0 1690.0,1125.0 1685.0,1150.0 1670.0,1200.0 1662.5,1220.0 1645.0,1240.0 1642.5,1255.0 1627.5,1285.0 1620.0,1310.0 1625.0,1345.0 1625.0,1375.0 1635.0,1387.5 1620.0,1415.0 1602.5,1470.0 1702.5,1467.5 1702.5,1490.0 1717.5,1515.0" fill="none" stroke="#000" stroke-width="4.4" stroke-linejoin="round" stroke-linecap="butt" stroke-dasharray="5.2 5.8"/>
<polyline points="1380.0,885.0 1570.0,879.0 1582.5,890.0" fill="none" stroke="#000" stroke-width="4.4" stroke-linejoin="round" stroke-linecap="butt" stroke-dasharray="5.2 5.8"/>
<polyline points="1440.0,1135.0 1657.5,1127.5 1665.0,1140.0 1650.0,1157.5 1685.0,1157.5" fill="none" stroke="#000" stroke-width="4.4" stroke-linejoin="round" stroke-linecap="butt" stroke-dasharray="5.2 5.8"/>
<polyline points="1585.0,510.0 1625.0,525.0 1665.0,540.0 1710.0,550.0 1725.0,565.0 1732.5,595.0" fill="none" stroke="#000" stroke-width="4.4" stroke-linejoin="round" stroke-linecap="butt" stroke-dasharray="5.2 5.8"/>
<polyline points="1615.0,760.0 1742.5,752.5" fill="none" stroke="#000" stroke-width="4.4" stroke-linejoin="round" stroke-linecap="butt" stroke-dasharray="5.2 5.8"/>
<polyline points="1760.0,800.0 1772.5,940.0 1770.0,955.0 1777.5,975.0 1760.0,1010.0 1755.0,1040.0" fill="none" stroke="#000" stroke-width="4.4" stroke-linejoin="round" stroke-linecap="butt" stroke-dasharray="5.2 5.8"/>
<polyline points="1690.0,1080.0 1707.5,1082.5 1740.0,1080.0 1737.5,1070.0 1750.0,1060.0 1755.0,1040.0 1760.0,1035.0 1780.0,1027.5 1800.0,1030.0 1820.0,1025.0 1835.0,1007.5 1855.0,1015.0 1877.5,970.0 1905.0,957.5 1902.5,942.5 1920.0,940.0 1935.0,955.0 1960.0,957.5 1980.0,960.0 1995.0,952.5 2015.0,955.0 2015.0,970.0" fill="none" stroke="#000" stroke-width="4.4" stroke-linejoin="round" stroke-linecap="butt" stroke-dasharray="5.2 5.8"/>
<polyline points="1882.5,782.5 1902.5,940.0" fill="none" stroke="#000" stroke-width="4.4" stroke-linejoin="round" stroke-linecap="butt" stroke-dasharray="5.2 5.8"/>
<polyline points="1760.0,800.0 1800.0,790.0 1882.5,782.5 1950.0,772.5" fill="none" stroke="#000" stroke-width="4.4" stroke-linejoin="round" stroke-linecap="butt" stroke-dasharray="5.2 5.8"/>
<polyline points="2072.5,740.0 2082.5,820.0 2097.5,872.5" fill="none" stroke="#000" stroke-width="4.4" stroke-linejoin="round" stroke-linecap="butt" stroke-dasharray="5.2 5.8"/>
<polyline points="2017.5,972.5 2030.0,935.0 2045.0,910.0 2080.0,885.0 2085.0,835.0 2082.5,820.0" fill="none" stroke="#000" stroke-width="4.4" stroke-linejoin="round" stroke-linecap="butt" stroke-dasharray="5.2 5.8"/>
<polyline points="2017.5,972.5 2040.0,1000.0 2060.0,1027.5 2075.0,1032.5 2105.0,1022.5 2130.0,1005.0 2137.5,980.0 2152.5,932.5 2170.0,935.0 2180.0,912.5 2197.5,895.0 2202.5,870.0 2225.0,877.5 2270.0,887.5" fill="none" stroke="#000" stroke-width="4.4" stroke-linejoin="round" stroke-linecap="butt" stroke-dasharray="5.2 5.8"/>
<polyline points="2097.5,872.5 2315.0,825.0 2330.0,817.5" fill="none" stroke="#000" stroke-width="4.4" stroke-linejoin="round" stroke-linecap="butt" stroke-dasharray="5.2 5.8"/>
<polyline points="2147.5,862.5 2150.0,890.0 2182.5,865.0 2205.0,850.0 2227.5,875.0 2270.0,887.5" fill="none" stroke="#000" stroke-width="4.4" stroke-linejoin="round" stroke-linecap="butt" stroke-dasharray="5.2 5.8"/>
<polyline points="2045.0,1025.0 2015.0,1057.5 1985.0,1085.0" fill="none" stroke="#000" stroke-width="4.4" stroke-linejoin="round" stroke-linecap="butt" stroke-dasharray="5.2 5.8"/>
<polyline points="1690.0,1125.0 1765.0,1110.0 1767.5,1102.5 1880.0,1095.0 1980.0,1085.0 2075.0,1070.0 2350.0,1015.0" fill="none" stroke="#000" stroke-width="4.4" stroke-linejoin="round" stroke-linecap="butt" stroke-dasharray="5.2 5.8"/>
<polyline points="1665.0,1220.0 1770.0,1210.0 1895.0,1197.5 2020.0,1180.0" fill="none" stroke="#000" stroke-width="4.4" stroke-linejoin="round" stroke-linecap="butt" stroke-dasharray="5.2 5.8"/>
<polyline points="1960.0,1185.0 1965.0,1170.0 1985.0,1150.0 2010.0,1140.0 2025.0,1120.0 2050.0,1100.0 2075.0,1070.0" fill="none" stroke="#000" stroke-width="4.4" stroke-linejoin="round" stroke-linecap="butt" stroke-dasharray="5.2 5.8"/>
<polyline points="2020.0,1180.0 2060.0,1160.0 2122.5,1152.5 2140.0,1170.0 2197.5,1162.5 2262.5,1205.0" fill="none" stroke="#000" stroke-width="4.4" stroke-linejoin="round" stroke-linecap="butt" stroke-dasharray="5.2 5.8"/>
<polyline points="2012.5,1195.0 2040.0,1210.0 2060.0,1237.5 2095.0,1265.0 2120.0,1285.0 2135.0,1315.0 2155.0,1340.0" fill="none" stroke="#000" stroke-width="4.4" stroke-linejoin="round" stroke-linecap="butt" stroke-dasharray="5.2 5.8"/>
<polyline points="1895.0,1197.5 1932.5,1325.0 1952.5,1360.0 1945.0,1390.0 1955.0,1435.0 1967.5,1457.5" fill="none" stroke="#000" stroke-width="4.4" stroke-linejoin="round" stroke-linecap="butt" stroke-dasharray="5.2 5.8"/>
<polyline points="1770.0,1210.0 1780.0,1495.0" fill="none" stroke="#000" stroke-width="4.4" stroke-linejoin="round" stroke-linecap="butt" stroke-dasharray="5.2 5.8"/>
<polyline points="1472.5,1350.0 1622.5,1345.0" fill="none" stroke="#000" stroke-width="4.4" stroke-linejoin="round" stroke-linecap="butt" stroke-dasharray="5.2 5.8"/>
<polyline points="1470.0,1317.5 1472.5,1415.0 1500.0,1472.5 1490.0,1530.0 1485.0,1550.0" fill="none" stroke="#000" stroke-width="4.4" stroke-linejoin="round" stroke-linecap="butt" stroke-dasharray="5.2 5.8"/>
<polyline points="1165.0,1247.5 1180.0,1260.0 1200.0,1257.5 1207.5,1270.0 1235.0,1277.5 1260.0,1277.5 1272.5,1295.0 1285.0,1290.0 1305.0,1297.5 1320.0,1295.0 1350.0,1305.0 1370.0,1295.0 1395.0,1295.0 1410.0,1292.5 1440.0,1307.5 1470.0,1317.5" fill="none" stroke="#000" stroke-width="4.4" stroke-linejoin="round" stroke-linecap="butt" stroke-dasharray="5.2 5.8"/>
<polyline points="1820.0,1455.0 1832.5,1480.0" fill="none" stroke="#000" stroke-width="4.4" stroke-linejoin="round" stroke-linecap="butt" stroke-dasharray="5.2 5.8"/>
<polyline points="1820.0,1455.0 1960.0,1440.0 1967.5,1457.5 2120.0,1445.0 2117.5,1455.0 2122.5,1427.5 2147.5,1427.5" fill="none" stroke="#000" stroke-width="4.4" stroke-linejoin="round" stroke-linecap="butt" stroke-dasharray="5.2 5.8"/>
<polyline points="2105.0,727.5 2300.0,685.0 2320.0,710.0 2380.0,725.0" fill="none" stroke="#000" stroke-width="4.4" stroke-linejoin="round" stroke-linecap="butt" stroke-dasharray="5.2 5.8"/>
<polyline points="2337.5,717.5 2327.5,760.0 2340.0,785.0 2355.0,790.0 2330.0,820.0" fill="none" stroke="#000" stroke-width="4.4" stroke-linejoin="round" stroke-linecap="butt" stroke-dasharray="5.2 5.8"/>
<polyline points="2315.0,825.0 2337.5,897.5 2365.0,892.5" fill="none" stroke="#000" stroke-width="4.4" stroke-linejoin="round" stroke-linecap="butt" stroke-dasharray="5.2 5.8"/>
<polyline points="2337.5,487.5 2345.0,520.0 2360.0,565.0 2377.5,610.0 2390.0,702.5 2380.0,720.0" fill="none" stroke="#000" stroke-width="4.4" stroke-linejoin="round" stroke-linecap="butt" stroke-dasharray="5.2 5.8"/>
<polyline points="2420.0,465.0 2405.0,510.0 2405.0,560.0 2407.5,605.0" fill="none" stroke="#000" stroke-width="4.4" stroke-linejoin="round" stroke-linecap="butt" stroke-dasharray="5.2 5.8"/>
<polyline points="2427.5,450.0 2450.0,500.0 2470.0,550.0 2482.5,565.0" fill="none" stroke="#000" stroke-width="4.4" stroke-linejoin="round" stroke-linecap="butt" stroke-dasharray="5.2 5.8"/>
<polyline points="2377.5,615.0 2410.0,605.0 2465.0,595.0 2480.0,577.5" fill="none" stroke="#000" stroke-width="4.4" stroke-linejoin="round" stroke-linecap="butt" stroke-dasharray="5.2 5.8"/>
<polyline points="2385.0,657.5 2455.0,642.5 2467.5,677.5" fill="none" stroke="#000" stroke-width="4.4" stroke-linejoin="round" stroke-linecap="butt" stroke-dasharray="5.2 5.8"/>
<polyline points="2455.0,642.5 2477.5,635.0 2480.0,665.0" fill="none" stroke="#000" stroke-width="4.4" stroke-linejoin="round" stroke-linecap="butt" stroke-dasharray="5.2 5.8"/>
<polyline points="1685.0,361.0 1707.5,365.0 1747.5,366.0 1760.0,367.5 1770.0,382.5 1780.0,402.5 1797.5,412.5 1830.0,410.0 1826.0,430.0 1845.0,445.0 1840.0,465.0 1857.5,472.5 1852.5,485.0 1835.0,490.0 1815.0,487.5 1775.0,502.5 1755.0,507.5 1735.0,505.0 1725.0,495.0 1705.0,486.0 1692.5,492.5 1688.8,480.0 1675.0,472.5 1712.5,452.5 1697.5,450.0 1682.5,465.0 1657.5,485.0 1640.0,495.0 1620.0,507.5 1600.0,510.0 1540.0,510.0 1555.0,485.0 1600.0,450.0 1645.0,420.0 1675.0,395.0 1685.0,370.0 1685.0,361.0" fill="none" stroke="#000" stroke-width="4.4" stroke-linejoin="round" stroke-linecap="butt" stroke-dasharray="5.2 5.8"/>
<polyline points="1762.5,570.0 1750.0,580.0 1742.5,617.5 1740.0,645.0 1732.5,705.0 1745.0,770.0 1760.0,800.0 1780.0,797.5 1805.0,765.0 1810.0,720.0 1795.0,690.0 1790.0,650.0 1797.5,595.0 1820.0,570.0 1840.0,540.0 1830.0,522.5 1800.0,535.0 1770.0,550.0 1762.5,570.0" fill="none" stroke="#000" stroke-width="4.4" stroke-linejoin="round" stroke-linecap="butt" stroke-dasharray="5.2 5.8"/>
<polyline points="1950.0,510.0 1980.0,502.5 2015.0,503.8 2050.0,530.0 2075.0,562.5 2062.5,582.5 2035.0,580.0 2010.0,570.0 2000.0,550.0 1985.0,550.0 2007.5,577.5 2000.0,605.0 1995.0,630.0 2002.5,655.0 1980.0,685.0 1967.5,675.0 1960.0,647.5 1945.0,632.5 1932.5,637.5 1920.0,662.5 1902.5,655.0 1917.5,627.5 1917.5,582.5 1895.0,555.0 1865.0,540.0 1850.0,522.5 1875.0,510.0 1925.0,520.0 1950.0,510.0" fill="none" stroke="#000" stroke-width="4.4" stroke-linejoin="round" stroke-linecap="butt" stroke-dasharray="5.2 5.8"/>
<polyline points="1950.0,770.0 1952.5,740.0 1980.0,720.0 2020.0,705.0 2040.0,700.0 2070.0,685.0 2105.0,670.0 2130.0,670.0 2125.0,685.0 2080.0,725.0 2030.0,750.0 2000.0,775.0 1970.0,785.0 1950.0,770.0" fill="none" stroke="#000" stroke-width="4.4" stroke-linejoin="round" stroke-linecap="butt" stroke-dasharray="5.2 5.8"/>
<polyline points="2092.5,650.0 2105.0,625.0 2130.0,610.0 2190.0,590.0 2220.0,580.0 2235.0,565.0 2240.0,590.0 2220.0,620.0 2180.0,630.0 2120.0,640.0 2115.0,650.0 2092.5,650.0" fill="none" stroke="#000" stroke-width="4.4" stroke-linejoin="round" stroke-linecap="butt" stroke-dasharray="5.2 5.8"/>
<polyline points="1408.5,165.0 1409.0,350.0" fill="none" stroke="#000" stroke-width="4.4" stroke-linejoin="round" stroke-linecap="butt" stroke-dasharray="7.4 3.6"/>
<polyline points="1162.5,165.0 1160.0,360.0" fill="none" stroke="#000" stroke-width="4.4" stroke-linejoin="round" stroke-linecap="butt" stroke-dasharray="7.4 3.6"/>
<polyline points="842.5,165.0 817.5,320.0" fill="none" stroke="#000" stroke-width="4.4" stroke-linejoin="round" stroke-linecap="butt" stroke-dasharray="7.4 3.6"/>
<polyline points="632.5,165.0 647.5,200.0 647.5,220.0 645.0,247.5 655.0,275.0 657.5,290.0" fill="none" stroke="#000" stroke-width="4.4" stroke-linejoin="round" stroke-linecap="butt" stroke-dasharray="7.4 3.6"/>
<polyline points="2000.0,165.0 2010.0,200.0 2050.0,400.0 2060.0,425.0 2090.0,455.0 2140.0,460.0 2165.0,470.0 2180.0,475.0 2200.0,490.0 2230.0,480.0 2270.0,462.5 2287.5,465.0 2290.0,482.5" fill="none" stroke="#000" stroke-width="4.4" stroke-linejoin="round" stroke-linecap="butt" stroke-dasharray="7.4 3.6"/>
<polyline points="2541.0,226.2 2523.5,242.5 2511.0,237.5 2491.0,245.0 2486.0,252.5 2491.0,272.5 2488.5,281.2 2501.0,283.8" fill="none" stroke="#000" stroke-width="4.4" stroke-linejoin="round" stroke-linecap="butt" stroke-dasharray="7.4 3.6"/>
</g>
<rect x="30.5" y="178.5" width="2790" height="1763" fill="none" stroke="#000" stroke-width="3"/>
<g font-family="Liberation Sans, sans-serif" fill="#000">
<rect x="2994.5" y="1597.82" width="73.80" height="134.98" fill="#053061"/>
<rect x="2994.5" y="1463.44" width="73.80" height="134.98" fill="#256baf"/>
<rect x="2994.5" y="1329.06" width="73.80" height="134.98" fill="#559ec9"/>
<rect x="2994.5" y="1194.68" width="73.80" height="134.98" fill="#a7d0e4"/>
<rect x="2994.5" y="1060.30" width="73.80" height="134.98" fill="#e2edf3"/>
<rect x="2994.5" y="925.92" width="73.80" height="134.98" fill="#fae7dc"/>
<rect x="2994.5" y="791.54" width="73.80" height="134.98" fill="#f7b799"/>
<rect x="2994.5" y="657.16" width="73.80" height="134.98" fill="#dd6f59"/>
<rect x="2994.5" y="522.78" width="73.80" height="134.98" fill="#b6202f"/>
<rect x="2994.5" y="388.40" width="73.80" height="134.98" fill="#67001f"/>
<polygon points="2994.5,388.9 3031.4,320.6 3068.3,388.9" fill="#67001f"/>
<polygon points="2994.5,1731.7 3031.4,1798.5 3068.3,1731.7" fill="#053061"/>
<polygon points="2994.5,388.4 3031.4,320.6 3068.3,388.4 3068.3,1732.2 3031.4,1798.5 2994.5,1732.2" fill="none" stroke="#000" stroke-width="3.1" stroke-linejoin="miter"/>
<line x1="3068.3" y1="1732.20" x2="3084" y2="1732.20" stroke="#000" stroke-width="3.1"/>
<text x="3100" y="1747.10" font-size="43.5" textLength="61.5" lengthAdjust="spacingAndGlyphs">0.0</text>
<line x1="3068.3" y1="1597.82" x2="3084" y2="1597.82" stroke="#000" stroke-width="3.1"/>
<text x="3100" y="1612.72" font-size="43.5" textLength="61.5" lengthAdjust="spacingAndGlyphs">0.1</text>
<line x1="3068.3" y1="1463.44" x2="3084" y2="1463.44" stroke="#000" stroke-width="3.1"/>
<text x="3100" y="1478.34" font-size="43.5" textLength="61.5" lengthAdjust="spacingAndGlyphs">0.2</text>
<line x1="3068.3" y1="1329.06" x2="3084" y2="1329.06" stroke="#000" stroke-width="3.1"/>
<text x="3100" y="1343.96" font-size="43.5" textLength="61.5" lengthAdjust="spacingAndGlyphs">0.3</text>
<line x1="3068.3" y1="1194.68" x2="3084" y2="1194.68" stroke="#000" stroke-width="3.1"/>
<text x="3100" y="1209.58" font-size="43.5" textLength="61.5" lengthAdjust="spacingAndGlyphs">0.4</text>
<line x1="3068.3" y1="1060.30" x2="3084" y2="1060.30" stroke="#000" stroke-width="3.1"/>
<text x="3100" y="1075.20" font-size="43.5" textLength="61.5" lengthAdjust="spacingAndGlyphs">0.5</text>
<line x1="3068.3" y1="925.92" x2="3084" y2="925.92" stroke="#000" stroke-width="3.1"/>
<text x="3100" y="940.82" font-size="43.5" textLength="61.5" lengthAdjust="spacingAndGlyphs">0.6</text>
<line x1="3068.3" y1="791.54" x2="3084" y2="791.54" stroke="#000" stroke-width="3.1"/>
<text x="3100" y="806.44" font-size="43.5" textLength="61.5" lengthAdjust="spacingAndGlyphs">0.7</text>
<line x1="3068.3" y1="657.16" x2="3084" y2="657.16" stroke="#000" stroke-width="3.1"/>
<text x="3100" y="672.06" font-size="43.5" textLength="61.5" lengthAdjust="spacingAndGlyphs">0.8</text>
<line x1="3068.3" y1="522.78" x2="3084" y2="522.78" stroke="#000" stroke-width="3.1"/>
<text x="3100" y="537.68" font-size="43.5" textLength="61.5" lengthAdjust="spacingAndGlyphs">0.9</text>
<line x1="3068.3" y1="388.40" x2="3084" y2="388.40" stroke="#000" stroke-width="3.1"/>
<text x="3100" y="403.30" font-size="43.5" textLength="61.5" lengthAdjust="spacingAndGlyphs">1.0</text>
<text transform="translate(3210.8,1061) rotate(-90)" text-anchor="middle" font-size="43" textLength="169" lengthAdjust="spacingAndGlyphs">Hit Rate</text>
</g>
</svg></body></html>
